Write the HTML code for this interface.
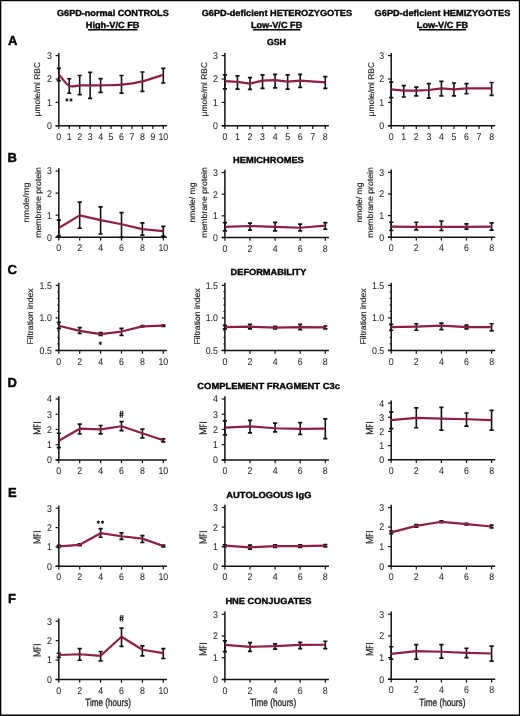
<!DOCTYPE html>
<html><head><meta charset="utf-8"><style>
html,body{margin:0;padding:0;background:#fff;width:520px;height:716px;overflow:hidden;}
svg text{font-family:"Liberation Sans",sans-serif;text-rendering:geometricPrecision;}
svg{will-change:transform;}
</style></head><body>
<svg width="520" height="716" viewBox="0 0 520 716" style="position:absolute;left:0;top:0">
<rect x="0" y="0" width="520" height="716" fill="#fff"/>
<text x="57.00" y="16.30" font-size="8.8" text-anchor="start" font-weight="bold" fill="#000" textLength="111.75" lengthAdjust="spacingAndGlyphs" stroke="#000" stroke-width="0.35">G6PD-normal CONTROLS</text>
<text x="85.75" y="27.60" font-size="8.8" text-anchor="start" font-weight="bold" fill="#000" textLength="53.75" lengthAdjust="spacingAndGlyphs" stroke="#000" stroke-width="0.35">High-V/C FB</text>
<path d="M87.95,29.70 H137.50" stroke="#000" stroke-width="1.4"/>
<text x="201.70" y="16.30" font-size="8.8" text-anchor="start" font-weight="bold" fill="#000" textLength="150.40" lengthAdjust="spacingAndGlyphs" stroke="#000" stroke-width="0.35">G6PD-deficient HETEROZYGOTES</text>
<text x="250.90" y="27.60" font-size="8.8" text-anchor="start" font-weight="bold" fill="#000" textLength="51.40" lengthAdjust="spacingAndGlyphs" stroke="#000" stroke-width="0.35">Low-V/C FB</text>
<path d="M253.10,29.70 H300.30" stroke="#000" stroke-width="1.4"/>
<text x="374.60" y="16.30" font-size="8.8" text-anchor="start" font-weight="bold" fill="#000" textLength="135.70" lengthAdjust="spacingAndGlyphs" stroke="#000" stroke-width="0.35">G6PD-deficient HEMIZYGOTES</text>
<text x="416.80" y="27.60" font-size="8.8" text-anchor="start" font-weight="bold" fill="#000" textLength="51.30" lengthAdjust="spacingAndGlyphs" stroke="#000" stroke-width="0.35">Low-V/C FB</text>
<path d="M419.00,29.70 H466.10" stroke="#000" stroke-width="1.4"/>
<text x="8.10" y="44.70" font-size="13" text-anchor="start" font-weight="bold" fill="#000" stroke="#000" stroke-width="0.4">A</text>
<text x="7.60" y="162.30" font-size="13" text-anchor="start" font-weight="bold" fill="#000" stroke="#000" stroke-width="0.4">B</text>
<text x="7.60" y="273.90" font-size="13" text-anchor="start" font-weight="bold" fill="#000" stroke="#000" stroke-width="0.4">C</text>
<text x="7.60" y="387.30" font-size="13" text-anchor="start" font-weight="bold" fill="#000" stroke="#000" stroke-width="0.4">D</text>
<text x="7.90" y="496.70" font-size="13" text-anchor="start" font-weight="bold" fill="#000" stroke="#000" stroke-width="0.4">E</text>
<text x="7.90" y="602.90" font-size="13" text-anchor="start" font-weight="bold" fill="#000" stroke="#000" stroke-width="0.4">F</text>
<text x="266.90" y="45.20" font-size="8.8" text-anchor="start" font-weight="bold" fill="#000" textLength="19.10" lengthAdjust="spacingAndGlyphs" stroke="#000" stroke-width="0.35">GSH</text>
<text x="233.10" y="162.60" font-size="8.8" text-anchor="start" font-weight="bold" fill="#000" textLength="70.70" lengthAdjust="spacingAndGlyphs" stroke="#000" stroke-width="0.35">HEMICHROMES</text>
<text x="230.60" y="275.10" font-size="8.8" text-anchor="start" font-weight="bold" fill="#000" textLength="75.70" lengthAdjust="spacingAndGlyphs" stroke="#000" stroke-width="0.35">DEFORMABILITY</text>
<text x="197.30" y="389.00" font-size="8.8" text-anchor="start" font-weight="bold" fill="#000" textLength="142.60" lengthAdjust="spacingAndGlyphs" stroke="#000" stroke-width="0.35">COMPLEMENT FRAGMENT C3c</text>
<text x="226.30" y="497.50" font-size="8.8" text-anchor="start" font-weight="bold" fill="#000" textLength="85.20" lengthAdjust="spacingAndGlyphs" stroke="#000" stroke-width="0.35">AUTOLOGOUS IgG</text>
<text x="225.40" y="604.00" font-size="8.8" text-anchor="start" font-weight="bold" fill="#000" textLength="86.10" lengthAdjust="spacingAndGlyphs" stroke="#000" stroke-width="0.35">HNE CONJUGATES</text>
<path d="M58.80,52.90 V125.80" stroke="#111" stroke-width="1.5" fill="none"/>
<path d="M55.60,125.80 H166.90" stroke="#111" stroke-width="1.5" fill="none"/>
<path d="M55.60,125.80 H58.80" stroke="#111" stroke-width="1.2"/>
<path d="M55.60,102.40 H58.80" stroke="#111" stroke-width="1.2"/>
<path d="M55.60,79.00 H58.80" stroke="#111" stroke-width="1.2"/>
<path d="M55.60,55.60 H58.80" stroke="#111" stroke-width="1.2"/>
<text transform="translate(51.80,129.20) scale(0.9,1)" x="0" y="0" font-size="9.8" text-anchor="end" fill="#262626" stroke="#262626" stroke-width="0.05">0</text>
<text transform="translate(51.80,105.80) scale(0.9,1)" x="0" y="0" font-size="9.8" text-anchor="end" fill="#262626" stroke="#262626" stroke-width="0.05">1</text>
<text transform="translate(51.80,82.40) scale(0.9,1)" x="0" y="0" font-size="9.8" text-anchor="end" fill="#262626" stroke="#262626" stroke-width="0.05">2</text>
<text transform="translate(51.80,59.00) scale(0.9,1)" x="0" y="0" font-size="9.8" text-anchor="end" fill="#262626" stroke="#262626" stroke-width="0.05">3</text>
<path d="M58.80,125.80 V129.10" stroke="#111" stroke-width="1.2"/>
<text transform="translate(58.80,139.90) scale(0.9,1)" x="0" y="0" font-size="9.8" text-anchor="middle" fill="#262626" stroke="#262626" stroke-width="0.05">0</text>
<path d="M69.25,125.80 V129.10" stroke="#111" stroke-width="1.2"/>
<text transform="translate(69.25,139.90) scale(0.9,1)" x="0" y="0" font-size="9.8" text-anchor="middle" fill="#262626" stroke="#262626" stroke-width="0.05">1</text>
<path d="M79.70,125.80 V129.10" stroke="#111" stroke-width="1.2"/>
<text transform="translate(79.70,139.90) scale(0.9,1)" x="0" y="0" font-size="9.8" text-anchor="middle" fill="#262626" stroke="#262626" stroke-width="0.05">2</text>
<path d="M90.15,125.80 V129.10" stroke="#111" stroke-width="1.2"/>
<text transform="translate(90.15,139.90) scale(0.9,1)" x="0" y="0" font-size="9.8" text-anchor="middle" fill="#262626" stroke="#262626" stroke-width="0.05">3</text>
<path d="M100.60,125.80 V129.10" stroke="#111" stroke-width="1.2"/>
<text transform="translate(100.60,139.90) scale(0.9,1)" x="0" y="0" font-size="9.8" text-anchor="middle" fill="#262626" stroke="#262626" stroke-width="0.05">4</text>
<path d="M111.05,125.80 V129.10" stroke="#111" stroke-width="1.2"/>
<text transform="translate(111.05,139.90) scale(0.9,1)" x="0" y="0" font-size="9.8" text-anchor="middle" fill="#262626" stroke="#262626" stroke-width="0.05">5</text>
<path d="M121.50,125.80 V129.10" stroke="#111" stroke-width="1.2"/>
<text transform="translate(121.50,139.90) scale(0.9,1)" x="0" y="0" font-size="9.8" text-anchor="middle" fill="#262626" stroke="#262626" stroke-width="0.05">6</text>
<path d="M131.95,125.80 V129.10" stroke="#111" stroke-width="1.2"/>
<text transform="translate(131.95,139.90) scale(0.9,1)" x="0" y="0" font-size="9.8" text-anchor="middle" fill="#262626" stroke="#262626" stroke-width="0.05">7</text>
<path d="M142.40,125.80 V129.10" stroke="#111" stroke-width="1.2"/>
<text transform="translate(142.40,139.90) scale(0.9,1)" x="0" y="0" font-size="9.8" text-anchor="middle" fill="#262626" stroke="#262626" stroke-width="0.05">8</text>
<path d="M152.85,125.80 V129.10" stroke="#111" stroke-width="1.2"/>
<text transform="translate(152.85,139.90) scale(0.9,1)" x="0" y="0" font-size="9.8" text-anchor="middle" fill="#262626" stroke="#262626" stroke-width="0.05">9</text>
<path d="M163.30,125.80 V129.10" stroke="#111" stroke-width="1.2"/>
<text transform="translate(163.30,139.90) scale(0.9,1)" x="0" y="0" font-size="9.8" text-anchor="middle" fill="#262626" stroke="#262626" stroke-width="0.05">10</text>
<path d="M58.80,68.47 V80.64" stroke="#111" stroke-width="1.6" fill="none"/>
<path d="M56.70,68.47 H60.90 M56.70,80.64 H60.90" stroke="#111" stroke-width="1.7" fill="none"/>
<path d="M69.25,78.77 V93.27" stroke="#111" stroke-width="1.6" fill="none"/>
<path d="M67.15,78.77 H71.35 M67.15,93.27 H71.35" stroke="#111" stroke-width="1.7" fill="none"/>
<path d="M79.70,75.49 V94.68" stroke="#111" stroke-width="1.6" fill="none"/>
<path d="M77.60,75.49 H81.80 M77.60,94.68 H81.80" stroke="#111" stroke-width="1.7" fill="none"/>
<path d="M90.15,72.45 V98.42" stroke="#111" stroke-width="1.6" fill="none"/>
<path d="M88.05,72.45 H92.25 M88.05,98.42 H92.25" stroke="#111" stroke-width="1.7" fill="none"/>
<path d="M100.60,78.53 V92.34" stroke="#111" stroke-width="1.6" fill="none"/>
<path d="M98.50,78.53 H102.70 M98.50,92.34 H102.70" stroke="#111" stroke-width="1.7" fill="none"/>
<path d="M121.50,75.49 V93.04" stroke="#111" stroke-width="1.6" fill="none"/>
<path d="M119.40,75.49 H123.60 M119.40,93.04 H123.60" stroke="#111" stroke-width="1.7" fill="none"/>
<path d="M142.40,71.98 V91.40" stroke="#111" stroke-width="1.6" fill="none"/>
<path d="M140.30,71.98 H144.50 M140.30,91.40 H144.50" stroke="#111" stroke-width="1.7" fill="none"/>
<path d="M163.30,68.47 V82.98" stroke="#111" stroke-width="1.6" fill="none"/>
<path d="M161.20,68.47 H165.40 M161.20,82.98 H165.40" stroke="#111" stroke-width="1.7" fill="none"/>
<path d="M58.80,74.32 C60.54,76.23 65.77,83.95 69.25,85.79 C72.73,87.62 76.22,85.40 79.70,85.32 C83.18,85.24 86.67,85.32 90.15,85.32 C93.63,85.32 95.38,85.44 100.60,85.32 C105.82,85.20 114.53,85.28 121.50,84.62 C128.47,83.95 135.43,82.98 142.40,81.34 C149.37,79.70 159.82,75.88 163.30,74.79" stroke="#8c1e47" stroke-width="2.2" fill="none" stroke-linejoin="round"/>
<path d="M224.90,52.90 V125.80" stroke="#111" stroke-width="1.5" fill="none"/>
<path d="M221.70,125.80 H328.90" stroke="#111" stroke-width="1.5" fill="none"/>
<path d="M221.70,125.80 H224.90" stroke="#111" stroke-width="1.2"/>
<path d="M221.70,102.40 H224.90" stroke="#111" stroke-width="1.2"/>
<path d="M221.70,79.00 H224.90" stroke="#111" stroke-width="1.2"/>
<path d="M221.70,55.60 H224.90" stroke="#111" stroke-width="1.2"/>
<text transform="translate(217.90,129.20) scale(0.9,1)" x="0" y="0" font-size="9.8" text-anchor="end" fill="#262626" stroke="#262626" stroke-width="0.05">0</text>
<text transform="translate(217.90,105.80) scale(0.9,1)" x="0" y="0" font-size="9.8" text-anchor="end" fill="#262626" stroke="#262626" stroke-width="0.05">1</text>
<text transform="translate(217.90,82.40) scale(0.9,1)" x="0" y="0" font-size="9.8" text-anchor="end" fill="#262626" stroke="#262626" stroke-width="0.05">2</text>
<text transform="translate(217.90,59.00) scale(0.9,1)" x="0" y="0" font-size="9.8" text-anchor="end" fill="#262626" stroke="#262626" stroke-width="0.05">3</text>
<path d="M224.90,125.80 V129.10" stroke="#111" stroke-width="1.2"/>
<text transform="translate(224.90,139.90) scale(0.9,1)" x="0" y="0" font-size="9.8" text-anchor="middle" fill="#262626" stroke="#262626" stroke-width="0.05">0</text>
<path d="M237.45,125.80 V129.10" stroke="#111" stroke-width="1.2"/>
<text transform="translate(237.45,139.90) scale(0.9,1)" x="0" y="0" font-size="9.8" text-anchor="middle" fill="#262626" stroke="#262626" stroke-width="0.05">1</text>
<path d="M250.00,125.80 V129.10" stroke="#111" stroke-width="1.2"/>
<text transform="translate(250.00,139.90) scale(0.9,1)" x="0" y="0" font-size="9.8" text-anchor="middle" fill="#262626" stroke="#262626" stroke-width="0.05">2</text>
<path d="M262.55,125.80 V129.10" stroke="#111" stroke-width="1.2"/>
<text transform="translate(262.55,139.90) scale(0.9,1)" x="0" y="0" font-size="9.8" text-anchor="middle" fill="#262626" stroke="#262626" stroke-width="0.05">3</text>
<path d="M275.10,125.80 V129.10" stroke="#111" stroke-width="1.2"/>
<text transform="translate(275.10,139.90) scale(0.9,1)" x="0" y="0" font-size="9.8" text-anchor="middle" fill="#262626" stroke="#262626" stroke-width="0.05">4</text>
<path d="M287.65,125.80 V129.10" stroke="#111" stroke-width="1.2"/>
<text transform="translate(287.65,139.90) scale(0.9,1)" x="0" y="0" font-size="9.8" text-anchor="middle" fill="#262626" stroke="#262626" stroke-width="0.05">5</text>
<path d="M300.20,125.80 V129.10" stroke="#111" stroke-width="1.2"/>
<text transform="translate(300.20,139.90) scale(0.9,1)" x="0" y="0" font-size="9.8" text-anchor="middle" fill="#262626" stroke="#262626" stroke-width="0.05">6</text>
<path d="M312.75,125.80 V129.10" stroke="#111" stroke-width="1.2"/>
<text transform="translate(312.75,139.90) scale(0.9,1)" x="0" y="0" font-size="9.8" text-anchor="middle" fill="#262626" stroke="#262626" stroke-width="0.05">7</text>
<path d="M325.30,125.80 V129.10" stroke="#111" stroke-width="1.2"/>
<text transform="translate(325.30,139.90) scale(0.9,1)" x="0" y="0" font-size="9.8" text-anchor="middle" fill="#262626" stroke="#262626" stroke-width="0.05">8</text>
<path d="M224.90,74.79 V88.83" stroke="#111" stroke-width="1.6" fill="none"/>
<path d="M222.80,74.79 H227.00 M222.80,88.83 H227.00" stroke="#111" stroke-width="1.7" fill="none"/>
<path d="M237.45,75.96 V89.06" stroke="#111" stroke-width="1.6" fill="none"/>
<path d="M235.35,75.96 H239.55 M235.35,89.06 H239.55" stroke="#111" stroke-width="1.7" fill="none"/>
<path d="M250.00,77.60 V89.30" stroke="#111" stroke-width="1.6" fill="none"/>
<path d="M247.90,77.60 H252.10 M247.90,89.30 H252.10" stroke="#111" stroke-width="1.7" fill="none"/>
<path d="M262.55,74.79 V88.36" stroke="#111" stroke-width="1.6" fill="none"/>
<path d="M260.45,74.79 H264.65 M260.45,88.36 H264.65" stroke="#111" stroke-width="1.7" fill="none"/>
<path d="M275.10,74.32 V87.89" stroke="#111" stroke-width="1.6" fill="none"/>
<path d="M273.00,74.32 H277.20 M273.00,87.89 H277.20" stroke="#111" stroke-width="1.7" fill="none"/>
<path d="M287.65,74.79 V89.06" stroke="#111" stroke-width="1.6" fill="none"/>
<path d="M285.55,74.79 H289.75 M285.55,89.06 H289.75" stroke="#111" stroke-width="1.7" fill="none"/>
<path d="M300.20,74.32 V87.42" stroke="#111" stroke-width="1.6" fill="none"/>
<path d="M298.10,74.32 H302.30 M298.10,87.42 H302.30" stroke="#111" stroke-width="1.7" fill="none"/>
<path d="M325.30,76.66 V88.36" stroke="#111" stroke-width="1.6" fill="none"/>
<path d="M323.20,76.66 H327.40 M323.20,88.36 H327.40" stroke="#111" stroke-width="1.7" fill="none"/>
<path d="M224.90,81.11 L237.45,81.81 L250.00,83.68 L262.55,80.64 L275.10,80.17 L287.65,81.57 L300.20,80.64 L325.30,82.28" stroke="#8c1e47" stroke-width="2.2" fill="none" stroke-linejoin="round"/>
<path d="M391.20,52.90 V125.80" stroke="#111" stroke-width="1.5" fill="none"/>
<path d="M388.00,125.80 H495.20" stroke="#111" stroke-width="1.5" fill="none"/>
<path d="M388.00,125.80 H391.20" stroke="#111" stroke-width="1.2"/>
<path d="M388.00,102.40 H391.20" stroke="#111" stroke-width="1.2"/>
<path d="M388.00,79.00 H391.20" stroke="#111" stroke-width="1.2"/>
<path d="M388.00,55.60 H391.20" stroke="#111" stroke-width="1.2"/>
<text transform="translate(384.20,129.20) scale(0.9,1)" x="0" y="0" font-size="9.8" text-anchor="end" fill="#262626" stroke="#262626" stroke-width="0.05">0</text>
<text transform="translate(384.20,105.80) scale(0.9,1)" x="0" y="0" font-size="9.8" text-anchor="end" fill="#262626" stroke="#262626" stroke-width="0.05">1</text>
<text transform="translate(384.20,82.40) scale(0.9,1)" x="0" y="0" font-size="9.8" text-anchor="end" fill="#262626" stroke="#262626" stroke-width="0.05">2</text>
<text transform="translate(384.20,59.00) scale(0.9,1)" x="0" y="0" font-size="9.8" text-anchor="end" fill="#262626" stroke="#262626" stroke-width="0.05">3</text>
<path d="M391.20,125.80 V129.10" stroke="#111" stroke-width="1.2"/>
<text transform="translate(391.20,139.90) scale(0.9,1)" x="0" y="0" font-size="9.8" text-anchor="middle" fill="#262626" stroke="#262626" stroke-width="0.05">0</text>
<path d="M403.75,125.80 V129.10" stroke="#111" stroke-width="1.2"/>
<text transform="translate(403.75,139.90) scale(0.9,1)" x="0" y="0" font-size="9.8" text-anchor="middle" fill="#262626" stroke="#262626" stroke-width="0.05">1</text>
<path d="M416.30,125.80 V129.10" stroke="#111" stroke-width="1.2"/>
<text transform="translate(416.30,139.90) scale(0.9,1)" x="0" y="0" font-size="9.8" text-anchor="middle" fill="#262626" stroke="#262626" stroke-width="0.05">2</text>
<path d="M428.85,125.80 V129.10" stroke="#111" stroke-width="1.2"/>
<text transform="translate(428.85,139.90) scale(0.9,1)" x="0" y="0" font-size="9.8" text-anchor="middle" fill="#262626" stroke="#262626" stroke-width="0.05">3</text>
<path d="M441.40,125.80 V129.10" stroke="#111" stroke-width="1.2"/>
<text transform="translate(441.40,139.90) scale(0.9,1)" x="0" y="0" font-size="9.8" text-anchor="middle" fill="#262626" stroke="#262626" stroke-width="0.05">4</text>
<path d="M453.95,125.80 V129.10" stroke="#111" stroke-width="1.2"/>
<text transform="translate(453.95,139.90) scale(0.9,1)" x="0" y="0" font-size="9.8" text-anchor="middle" fill="#262626" stroke="#262626" stroke-width="0.05">5</text>
<path d="M466.50,125.80 V129.10" stroke="#111" stroke-width="1.2"/>
<text transform="translate(466.50,139.90) scale(0.9,1)" x="0" y="0" font-size="9.8" text-anchor="middle" fill="#262626" stroke="#262626" stroke-width="0.05">6</text>
<path d="M479.05,125.80 V129.10" stroke="#111" stroke-width="1.2"/>
<text transform="translate(479.05,139.90) scale(0.9,1)" x="0" y="0" font-size="9.8" text-anchor="middle" fill="#262626" stroke="#262626" stroke-width="0.05">7</text>
<path d="M491.60,125.80 V129.10" stroke="#111" stroke-width="1.2"/>
<text transform="translate(491.60,139.90) scale(0.9,1)" x="0" y="0" font-size="9.8" text-anchor="middle" fill="#262626" stroke="#262626" stroke-width="0.05">8</text>
<path d="M391.20,82.04 V97.72" stroke="#111" stroke-width="1.6" fill="none"/>
<path d="M389.10,82.04 H393.30 M389.10,97.72 H393.30" stroke="#111" stroke-width="1.7" fill="none"/>
<path d="M403.75,85.55 V97.02" stroke="#111" stroke-width="1.6" fill="none"/>
<path d="M401.65,85.55 H405.85 M401.65,97.02 H405.85" stroke="#111" stroke-width="1.7" fill="none"/>
<path d="M416.30,87.19 V95.85" stroke="#111" stroke-width="1.6" fill="none"/>
<path d="M414.20,87.19 H418.40 M414.20,95.85 H418.40" stroke="#111" stroke-width="1.7" fill="none"/>
<path d="M428.85,83.68 V98.19" stroke="#111" stroke-width="1.6" fill="none"/>
<path d="M426.75,83.68 H430.95 M426.75,98.19 H430.95" stroke="#111" stroke-width="1.7" fill="none"/>
<path d="M441.40,81.34 V95.85" stroke="#111" stroke-width="1.6" fill="none"/>
<path d="M439.30,81.34 H443.50 M439.30,95.85 H443.50" stroke="#111" stroke-width="1.7" fill="none"/>
<path d="M453.95,82.98 V95.85" stroke="#111" stroke-width="1.6" fill="none"/>
<path d="M451.85,82.98 H456.05 M451.85,95.85 H456.05" stroke="#111" stroke-width="1.7" fill="none"/>
<path d="M466.50,83.68 V93.74" stroke="#111" stroke-width="1.6" fill="none"/>
<path d="M464.40,83.68 H468.60 M464.40,93.74 H468.60" stroke="#111" stroke-width="1.7" fill="none"/>
<path d="M491.60,82.51 V95.38" stroke="#111" stroke-width="1.6" fill="none"/>
<path d="M489.50,82.51 H493.70 M489.50,95.38 H493.70" stroke="#111" stroke-width="1.7" fill="none"/>
<path d="M391.20,89.30 L403.75,90.70 L416.30,90.70 L428.85,90.00 L441.40,88.36 L453.95,89.30 L466.50,88.36 L491.60,88.36" stroke="#8c1e47" stroke-width="2.2" fill="none" stroke-linejoin="round"/>
<path d="M58.80,168.30 V237.30" stroke="#111" stroke-width="1.5" fill="none"/>
<path d="M55.60,237.30 H166.90" stroke="#111" stroke-width="1.5" fill="none"/>
<path d="M55.60,237.30 H58.80" stroke="#111" stroke-width="1.2"/>
<path d="M55.60,215.20 H58.80" stroke="#111" stroke-width="1.2"/>
<path d="M55.60,193.10 H58.80" stroke="#111" stroke-width="1.2"/>
<path d="M55.60,171.00 H58.80" stroke="#111" stroke-width="1.2"/>
<text transform="translate(51.80,240.70) scale(0.9,1)" x="0" y="0" font-size="9.8" text-anchor="end" fill="#262626" stroke="#262626" stroke-width="0.05">0</text>
<text transform="translate(51.80,218.60) scale(0.9,1)" x="0" y="0" font-size="9.8" text-anchor="end" fill="#262626" stroke="#262626" stroke-width="0.05">1</text>
<text transform="translate(51.80,196.50) scale(0.9,1)" x="0" y="0" font-size="9.8" text-anchor="end" fill="#262626" stroke="#262626" stroke-width="0.05">2</text>
<text transform="translate(51.80,174.40) scale(0.9,1)" x="0" y="0" font-size="9.8" text-anchor="end" fill="#262626" stroke="#262626" stroke-width="0.05">3</text>
<path d="M58.80,237.30 V240.60" stroke="#111" stroke-width="1.2"/>
<text transform="translate(58.80,251.40) scale(0.9,1)" x="0" y="0" font-size="9.8" text-anchor="middle" fill="#262626" stroke="#262626" stroke-width="0.05">0</text>
<path d="M79.70,237.30 V240.60" stroke="#111" stroke-width="1.2"/>
<text transform="translate(79.70,251.40) scale(0.9,1)" x="0" y="0" font-size="9.8" text-anchor="middle" fill="#262626" stroke="#262626" stroke-width="0.05">2</text>
<path d="M100.60,237.30 V240.60" stroke="#111" stroke-width="1.2"/>
<text transform="translate(100.60,251.40) scale(0.9,1)" x="0" y="0" font-size="9.8" text-anchor="middle" fill="#262626" stroke="#262626" stroke-width="0.05">4</text>
<path d="M121.50,237.30 V240.60" stroke="#111" stroke-width="1.2"/>
<text transform="translate(121.50,251.40) scale(0.9,1)" x="0" y="0" font-size="9.8" text-anchor="middle" fill="#262626" stroke="#262626" stroke-width="0.05">6</text>
<path d="M142.40,237.30 V240.60" stroke="#111" stroke-width="1.2"/>
<text transform="translate(142.40,251.40) scale(0.9,1)" x="0" y="0" font-size="9.8" text-anchor="middle" fill="#262626" stroke="#262626" stroke-width="0.05">8</text>
<path d="M163.30,237.30 V240.60" stroke="#111" stroke-width="1.2"/>
<text transform="translate(163.30,251.40) scale(0.9,1)" x="0" y="0" font-size="9.8" text-anchor="middle" fill="#262626" stroke="#262626" stroke-width="0.05">10</text>
<path d="M58.80,220.06 V236.20" stroke="#111" stroke-width="1.6" fill="none"/>
<path d="M56.70,220.06 H60.90 M56.70,236.20 H60.90" stroke="#111" stroke-width="1.7" fill="none"/>
<path d="M79.70,202.16 V228.24" stroke="#111" stroke-width="1.6" fill="none"/>
<path d="M77.60,202.16 H81.80 M77.60,228.24 H81.80" stroke="#111" stroke-width="1.7" fill="none"/>
<path d="M100.60,206.80 V233.99" stroke="#111" stroke-width="1.6" fill="none"/>
<path d="M98.50,206.80 H102.70 M98.50,233.99 H102.70" stroke="#111" stroke-width="1.7" fill="none"/>
<path d="M121.50,212.55 V237.30" stroke="#111" stroke-width="1.6" fill="none"/>
<path d="M119.40,212.55 H123.60 M119.40,237.30 H123.60" stroke="#111" stroke-width="1.7" fill="none"/>
<path d="M142.40,222.94 V235.09" stroke="#111" stroke-width="1.6" fill="none"/>
<path d="M140.30,222.94 H144.50 M140.30,235.09 H144.50" stroke="#111" stroke-width="1.7" fill="none"/>
<path d="M163.30,226.47 V236.20" stroke="#111" stroke-width="1.6" fill="none"/>
<path d="M161.20,226.47 H165.40 M161.20,236.20 H165.40" stroke="#111" stroke-width="1.7" fill="none"/>
<path d="M58.80,228.02 L79.70,215.42 L100.60,220.06 L121.50,224.26 L142.40,229.12 L163.30,231.11" stroke="#8c1e47" stroke-width="2.2" fill="none" stroke-linejoin="round"/>
<path d="M224.90,169.80 V237.50" stroke="#111" stroke-width="1.5" fill="none"/>
<path d="M221.70,237.50 H328.90" stroke="#111" stroke-width="1.5" fill="none"/>
<path d="M221.70,237.50 H224.90" stroke="#111" stroke-width="1.2"/>
<path d="M221.70,215.83 H224.90" stroke="#111" stroke-width="1.2"/>
<path d="M221.70,194.17 H224.90" stroke="#111" stroke-width="1.2"/>
<path d="M221.70,172.50 H224.90" stroke="#111" stroke-width="1.2"/>
<text transform="translate(217.90,240.90) scale(0.9,1)" x="0" y="0" font-size="9.8" text-anchor="end" fill="#262626" stroke="#262626" stroke-width="0.05">0</text>
<text transform="translate(217.90,219.23) scale(0.9,1)" x="0" y="0" font-size="9.8" text-anchor="end" fill="#262626" stroke="#262626" stroke-width="0.05">1</text>
<text transform="translate(217.90,197.57) scale(0.9,1)" x="0" y="0" font-size="9.8" text-anchor="end" fill="#262626" stroke="#262626" stroke-width="0.05">2</text>
<text transform="translate(217.90,175.90) scale(0.9,1)" x="0" y="0" font-size="9.8" text-anchor="end" fill="#262626" stroke="#262626" stroke-width="0.05">3</text>
<path d="M224.90,237.50 V240.80" stroke="#111" stroke-width="1.2"/>
<text transform="translate(224.90,251.60) scale(0.9,1)" x="0" y="0" font-size="9.8" text-anchor="middle" fill="#262626" stroke="#262626" stroke-width="0.05">0</text>
<path d="M250.00,237.50 V240.80" stroke="#111" stroke-width="1.2"/>
<text transform="translate(250.00,251.60) scale(0.9,1)" x="0" y="0" font-size="9.8" text-anchor="middle" fill="#262626" stroke="#262626" stroke-width="0.05">2</text>
<path d="M275.10,237.50 V240.80" stroke="#111" stroke-width="1.2"/>
<text transform="translate(275.10,251.60) scale(0.9,1)" x="0" y="0" font-size="9.8" text-anchor="middle" fill="#262626" stroke="#262626" stroke-width="0.05">4</text>
<path d="M300.20,237.50 V240.80" stroke="#111" stroke-width="1.2"/>
<text transform="translate(300.20,251.60) scale(0.9,1)" x="0" y="0" font-size="9.8" text-anchor="middle" fill="#262626" stroke="#262626" stroke-width="0.05">6</text>
<path d="M325.30,237.50 V240.80" stroke="#111" stroke-width="1.2"/>
<text transform="translate(325.30,251.60) scale(0.9,1)" x="0" y="0" font-size="9.8" text-anchor="middle" fill="#262626" stroke="#262626" stroke-width="0.05">8</text>
<path d="M224.90,222.55 V230.78" stroke="#111" stroke-width="1.6" fill="none"/>
<path d="M222.80,222.55 H227.00 M222.80,230.78 H227.00" stroke="#111" stroke-width="1.7" fill="none"/>
<path d="M250.00,223.20 V230.13" stroke="#111" stroke-width="1.6" fill="none"/>
<path d="M247.90,223.20 H252.10 M247.90,230.13 H252.10" stroke="#111" stroke-width="1.7" fill="none"/>
<path d="M275.10,222.33 V230.78" stroke="#111" stroke-width="1.6" fill="none"/>
<path d="M273.00,222.33 H277.20 M273.00,230.78 H277.20" stroke="#111" stroke-width="1.7" fill="none"/>
<path d="M300.20,224.07 V230.78" stroke="#111" stroke-width="1.6" fill="none"/>
<path d="M298.10,224.07 H302.30 M298.10,230.78 H302.30" stroke="#111" stroke-width="1.7" fill="none"/>
<path d="M325.30,222.55 V229.27" stroke="#111" stroke-width="1.6" fill="none"/>
<path d="M323.20,222.55 H327.40 M323.20,229.27 H327.40" stroke="#111" stroke-width="1.7" fill="none"/>
<path d="M224.90,226.88 L250.00,226.02 L275.10,226.88 L300.20,227.75 L325.30,225.58" stroke="#8c1e47" stroke-width="2.2" fill="none" stroke-linejoin="round"/>
<path d="M391.20,169.60 V237.20" stroke="#111" stroke-width="1.5" fill="none"/>
<path d="M388.00,237.20 H495.20" stroke="#111" stroke-width="1.5" fill="none"/>
<path d="M388.00,237.20 H391.20" stroke="#111" stroke-width="1.2"/>
<path d="M388.00,215.57 H391.20" stroke="#111" stroke-width="1.2"/>
<path d="M388.00,193.93 H391.20" stroke="#111" stroke-width="1.2"/>
<path d="M388.00,172.30 H391.20" stroke="#111" stroke-width="1.2"/>
<text transform="translate(384.20,240.60) scale(0.9,1)" x="0" y="0" font-size="9.8" text-anchor="end" fill="#262626" stroke="#262626" stroke-width="0.05">0</text>
<text transform="translate(384.20,218.97) scale(0.9,1)" x="0" y="0" font-size="9.8" text-anchor="end" fill="#262626" stroke="#262626" stroke-width="0.05">1</text>
<text transform="translate(384.20,197.33) scale(0.9,1)" x="0" y="0" font-size="9.8" text-anchor="end" fill="#262626" stroke="#262626" stroke-width="0.05">2</text>
<text transform="translate(384.20,175.70) scale(0.9,1)" x="0" y="0" font-size="9.8" text-anchor="end" fill="#262626" stroke="#262626" stroke-width="0.05">3</text>
<path d="M391.20,237.20 V240.50" stroke="#111" stroke-width="1.2"/>
<text transform="translate(391.20,251.30) scale(0.9,1)" x="0" y="0" font-size="9.8" text-anchor="middle" fill="#262626" stroke="#262626" stroke-width="0.05">0</text>
<path d="M416.30,237.20 V240.50" stroke="#111" stroke-width="1.2"/>
<text transform="translate(416.30,251.30) scale(0.9,1)" x="0" y="0" font-size="9.8" text-anchor="middle" fill="#262626" stroke="#262626" stroke-width="0.05">2</text>
<path d="M441.40,237.20 V240.50" stroke="#111" stroke-width="1.2"/>
<text transform="translate(441.40,251.30) scale(0.9,1)" x="0" y="0" font-size="9.8" text-anchor="middle" fill="#262626" stroke="#262626" stroke-width="0.05">4</text>
<path d="M466.50,237.20 V240.50" stroke="#111" stroke-width="1.2"/>
<text transform="translate(466.50,251.30) scale(0.9,1)" x="0" y="0" font-size="9.8" text-anchor="middle" fill="#262626" stroke="#262626" stroke-width="0.05">6</text>
<path d="M491.60,237.20 V240.50" stroke="#111" stroke-width="1.2"/>
<text transform="translate(491.60,251.30) scale(0.9,1)" x="0" y="0" font-size="9.8" text-anchor="middle" fill="#262626" stroke="#262626" stroke-width="0.05">8</text>
<path d="M391.20,222.27 V230.49" stroke="#111" stroke-width="1.6" fill="none"/>
<path d="M389.10,222.27 H393.30 M389.10,230.49 H393.30" stroke="#111" stroke-width="1.7" fill="none"/>
<path d="M416.30,222.27 V229.84" stroke="#111" stroke-width="1.6" fill="none"/>
<path d="M414.20,222.27 H418.40 M414.20,229.84 H418.40" stroke="#111" stroke-width="1.7" fill="none"/>
<path d="M441.40,221.19 V230.49" stroke="#111" stroke-width="1.6" fill="none"/>
<path d="M439.30,221.19 H443.50 M439.30,230.49 H443.50" stroke="#111" stroke-width="1.7" fill="none"/>
<path d="M466.50,223.79 V229.20" stroke="#111" stroke-width="1.6" fill="none"/>
<path d="M464.40,223.79 H468.60 M464.40,229.20 H468.60" stroke="#111" stroke-width="1.7" fill="none"/>
<path d="M491.60,222.92 V230.06" stroke="#111" stroke-width="1.6" fill="none"/>
<path d="M489.50,222.92 H493.70 M489.50,230.06 H493.70" stroke="#111" stroke-width="1.7" fill="none"/>
<path d="M391.20,226.60 L416.30,226.82 L441.40,226.82 L466.50,226.82 L491.60,226.60" stroke="#8c1e47" stroke-width="2.2" fill="none" stroke-linejoin="round"/>
<path d="M58.80,282.70 V350.40" stroke="#111" stroke-width="1.5" fill="none"/>
<path d="M55.60,350.40 H166.90" stroke="#111" stroke-width="1.5" fill="none"/>
<path d="M55.60,350.40 H58.80" stroke="#111" stroke-width="1.2"/>
<path d="M55.60,317.90 H58.80" stroke="#111" stroke-width="1.2"/>
<path d="M55.60,285.40 H58.80" stroke="#111" stroke-width="1.2"/>
<path d="M57.20,343.90 H58.80" stroke="#111" stroke-width="1"/>
<path d="M57.20,337.40 H58.80" stroke="#111" stroke-width="1"/>
<path d="M57.20,330.90 H58.80" stroke="#111" stroke-width="1"/>
<path d="M57.20,324.40 H58.80" stroke="#111" stroke-width="1"/>
<path d="M57.20,311.40 H58.80" stroke="#111" stroke-width="1"/>
<path d="M57.20,304.90 H58.80" stroke="#111" stroke-width="1"/>
<path d="M57.20,298.40 H58.80" stroke="#111" stroke-width="1"/>
<path d="M57.20,291.90 H58.80" stroke="#111" stroke-width="1"/>
<text transform="translate(51.80,353.80) scale(0.9,1)" x="0" y="0" font-size="9.8" text-anchor="end" fill="#262626" stroke="#262626" stroke-width="0.05">0.5</text>
<text transform="translate(51.80,321.30) scale(0.9,1)" x="0" y="0" font-size="9.8" text-anchor="end" fill="#262626" stroke="#262626" stroke-width="0.05">1.0</text>
<text transform="translate(51.80,288.80) scale(0.9,1)" x="0" y="0" font-size="9.8" text-anchor="end" fill="#262626" stroke="#262626" stroke-width="0.05">1.5</text>
<path d="M58.80,350.40 V353.70" stroke="#111" stroke-width="1.2"/>
<text transform="translate(58.80,364.50) scale(0.9,1)" x="0" y="0" font-size="9.8" text-anchor="middle" fill="#262626" stroke="#262626" stroke-width="0.05">0</text>
<path d="M79.70,350.40 V353.70" stroke="#111" stroke-width="1.2"/>
<text transform="translate(79.70,364.50) scale(0.9,1)" x="0" y="0" font-size="9.8" text-anchor="middle" fill="#262626" stroke="#262626" stroke-width="0.05">2</text>
<path d="M100.60,350.40 V353.70" stroke="#111" stroke-width="1.2"/>
<text transform="translate(100.60,364.50) scale(0.9,1)" x="0" y="0" font-size="9.8" text-anchor="middle" fill="#262626" stroke="#262626" stroke-width="0.05">4</text>
<path d="M121.50,350.40 V353.70" stroke="#111" stroke-width="1.2"/>
<text transform="translate(121.50,364.50) scale(0.9,1)" x="0" y="0" font-size="9.8" text-anchor="middle" fill="#262626" stroke="#262626" stroke-width="0.05">6</text>
<path d="M142.40,350.40 V353.70" stroke="#111" stroke-width="1.2"/>
<text transform="translate(142.40,364.50) scale(0.9,1)" x="0" y="0" font-size="9.8" text-anchor="middle" fill="#262626" stroke="#262626" stroke-width="0.05">8</text>
<path d="M163.30,350.40 V353.70" stroke="#111" stroke-width="1.2"/>
<text transform="translate(163.30,364.50) scale(0.9,1)" x="0" y="0" font-size="9.8" text-anchor="middle" fill="#262626" stroke="#262626" stroke-width="0.05">10</text>
<path d="M58.80,322.45 V328.30" stroke="#111" stroke-width="1.6" fill="none"/>
<path d="M56.70,322.45 H60.90 M56.70,328.30 H60.90" stroke="#111" stroke-width="1.7" fill="none"/>
<path d="M79.70,327.65 V333.50" stroke="#111" stroke-width="1.6" fill="none"/>
<path d="M77.60,327.65 H81.80 M77.60,333.50 H81.80" stroke="#111" stroke-width="1.7" fill="none"/>
<path d="M100.60,332.52 V335.45" stroke="#111" stroke-width="1.6" fill="none"/>
<path d="M98.50,332.52 H102.70 M98.50,335.45 H102.70" stroke="#111" stroke-width="1.7" fill="none"/>
<path d="M121.50,328.30 V335.45" stroke="#111" stroke-width="1.6" fill="none"/>
<path d="M119.40,328.30 H123.60 M119.40,335.45 H123.60" stroke="#111" stroke-width="1.7" fill="none"/>
<path d="M142.40,325.70 V327.00" stroke="#111" stroke-width="1.6" fill="none"/>
<path d="M140.30,325.70 H144.50 M140.30,327.00 H144.50" stroke="#111" stroke-width="1.7" fill="none"/>
<path d="M163.30,325.05 V326.35" stroke="#111" stroke-width="1.6" fill="none"/>
<path d="M161.20,325.05 H165.40 M161.20,326.35 H165.40" stroke="#111" stroke-width="1.7" fill="none"/>
<path d="M58.80,325.70 L79.70,330.90 L100.60,334.15 L121.50,331.55 L142.40,326.35 L163.30,325.70" stroke="#8c1e47" stroke-width="2.2" fill="none" stroke-linejoin="round"/>
<path d="M224.90,282.70 V350.40" stroke="#111" stroke-width="1.5" fill="none"/>
<path d="M221.70,350.40 H328.90" stroke="#111" stroke-width="1.5" fill="none"/>
<path d="M221.70,350.40 H224.90" stroke="#111" stroke-width="1.2"/>
<path d="M221.70,317.90 H224.90" stroke="#111" stroke-width="1.2"/>
<path d="M221.70,285.40 H224.90" stroke="#111" stroke-width="1.2"/>
<path d="M223.30,343.90 H224.90" stroke="#111" stroke-width="1"/>
<path d="M223.30,337.40 H224.90" stroke="#111" stroke-width="1"/>
<path d="M223.30,330.90 H224.90" stroke="#111" stroke-width="1"/>
<path d="M223.30,324.40 H224.90" stroke="#111" stroke-width="1"/>
<path d="M223.30,311.40 H224.90" stroke="#111" stroke-width="1"/>
<path d="M223.30,304.90 H224.90" stroke="#111" stroke-width="1"/>
<path d="M223.30,298.40 H224.90" stroke="#111" stroke-width="1"/>
<path d="M223.30,291.90 H224.90" stroke="#111" stroke-width="1"/>
<text transform="translate(217.90,353.80) scale(0.9,1)" x="0" y="0" font-size="9.8" text-anchor="end" fill="#262626" stroke="#262626" stroke-width="0.05">0.5</text>
<text transform="translate(217.90,321.30) scale(0.9,1)" x="0" y="0" font-size="9.8" text-anchor="end" fill="#262626" stroke="#262626" stroke-width="0.05">1.0</text>
<text transform="translate(217.90,288.80) scale(0.9,1)" x="0" y="0" font-size="9.8" text-anchor="end" fill="#262626" stroke="#262626" stroke-width="0.05">1.5</text>
<path d="M224.90,350.40 V353.70" stroke="#111" stroke-width="1.2"/>
<text transform="translate(224.90,364.50) scale(0.9,1)" x="0" y="0" font-size="9.8" text-anchor="middle" fill="#262626" stroke="#262626" stroke-width="0.05">0</text>
<path d="M250.00,350.40 V353.70" stroke="#111" stroke-width="1.2"/>
<text transform="translate(250.00,364.50) scale(0.9,1)" x="0" y="0" font-size="9.8" text-anchor="middle" fill="#262626" stroke="#262626" stroke-width="0.05">2</text>
<path d="M275.10,350.40 V353.70" stroke="#111" stroke-width="1.2"/>
<text transform="translate(275.10,364.50) scale(0.9,1)" x="0" y="0" font-size="9.8" text-anchor="middle" fill="#262626" stroke="#262626" stroke-width="0.05">4</text>
<path d="M300.20,350.40 V353.70" stroke="#111" stroke-width="1.2"/>
<text transform="translate(300.20,364.50) scale(0.9,1)" x="0" y="0" font-size="9.8" text-anchor="middle" fill="#262626" stroke="#262626" stroke-width="0.05">6</text>
<path d="M325.30,350.40 V353.70" stroke="#111" stroke-width="1.2"/>
<text transform="translate(325.30,364.50) scale(0.9,1)" x="0" y="0" font-size="9.8" text-anchor="middle" fill="#262626" stroke="#262626" stroke-width="0.05">8</text>
<path d="M224.90,325.70 V328.95" stroke="#111" stroke-width="1.6" fill="none"/>
<path d="M222.80,325.70 H227.00 M222.80,328.95 H227.00" stroke="#111" stroke-width="1.7" fill="none"/>
<path d="M250.00,324.40 V328.95" stroke="#111" stroke-width="1.6" fill="none"/>
<path d="M247.90,324.40 H252.10 M247.90,328.95 H252.10" stroke="#111" stroke-width="1.7" fill="none"/>
<path d="M275.10,326.35 V328.95" stroke="#111" stroke-width="1.6" fill="none"/>
<path d="M273.00,326.35 H277.20 M273.00,328.95 H277.20" stroke="#111" stroke-width="1.7" fill="none"/>
<path d="M300.20,324.40 V329.60" stroke="#111" stroke-width="1.6" fill="none"/>
<path d="M298.10,324.40 H302.30 M298.10,329.60 H302.30" stroke="#111" stroke-width="1.7" fill="none"/>
<path d="M325.30,326.02 V328.95" stroke="#111" stroke-width="1.6" fill="none"/>
<path d="M323.20,326.02 H327.40 M323.20,328.95 H327.40" stroke="#111" stroke-width="1.7" fill="none"/>
<path d="M224.90,327.19 L250.00,326.61 L275.10,327.65 L300.20,327.19 L325.30,327.45" stroke="#8c1e47" stroke-width="2.2" fill="none" stroke-linejoin="round"/>
<path d="M391.20,282.70 V350.40" stroke="#111" stroke-width="1.5" fill="none"/>
<path d="M388.00,350.40 H495.20" stroke="#111" stroke-width="1.5" fill="none"/>
<path d="M388.00,350.40 H391.20" stroke="#111" stroke-width="1.2"/>
<path d="M388.00,317.90 H391.20" stroke="#111" stroke-width="1.2"/>
<path d="M388.00,285.40 H391.20" stroke="#111" stroke-width="1.2"/>
<path d="M389.60,343.90 H391.20" stroke="#111" stroke-width="1"/>
<path d="M389.60,337.40 H391.20" stroke="#111" stroke-width="1"/>
<path d="M389.60,330.90 H391.20" stroke="#111" stroke-width="1"/>
<path d="M389.60,324.40 H391.20" stroke="#111" stroke-width="1"/>
<path d="M389.60,311.40 H391.20" stroke="#111" stroke-width="1"/>
<path d="M389.60,304.90 H391.20" stroke="#111" stroke-width="1"/>
<path d="M389.60,298.40 H391.20" stroke="#111" stroke-width="1"/>
<path d="M389.60,291.90 H391.20" stroke="#111" stroke-width="1"/>
<text transform="translate(384.20,353.80) scale(0.9,1)" x="0" y="0" font-size="9.8" text-anchor="end" fill="#262626" stroke="#262626" stroke-width="0.05">0.5</text>
<text transform="translate(384.20,321.30) scale(0.9,1)" x="0" y="0" font-size="9.8" text-anchor="end" fill="#262626" stroke="#262626" stroke-width="0.05">1.0</text>
<text transform="translate(384.20,288.80) scale(0.9,1)" x="0" y="0" font-size="9.8" text-anchor="end" fill="#262626" stroke="#262626" stroke-width="0.05">1.5</text>
<path d="M391.20,350.40 V353.70" stroke="#111" stroke-width="1.2"/>
<text transform="translate(391.20,364.50) scale(0.9,1)" x="0" y="0" font-size="9.8" text-anchor="middle" fill="#262626" stroke="#262626" stroke-width="0.05">0</text>
<path d="M416.30,350.40 V353.70" stroke="#111" stroke-width="1.2"/>
<text transform="translate(416.30,364.50) scale(0.9,1)" x="0" y="0" font-size="9.8" text-anchor="middle" fill="#262626" stroke="#262626" stroke-width="0.05">2</text>
<path d="M441.40,350.40 V353.70" stroke="#111" stroke-width="1.2"/>
<text transform="translate(441.40,364.50) scale(0.9,1)" x="0" y="0" font-size="9.8" text-anchor="middle" fill="#262626" stroke="#262626" stroke-width="0.05">4</text>
<path d="M466.50,350.40 V353.70" stroke="#111" stroke-width="1.2"/>
<text transform="translate(466.50,364.50) scale(0.9,1)" x="0" y="0" font-size="9.8" text-anchor="middle" fill="#262626" stroke="#262626" stroke-width="0.05">6</text>
<path d="M491.60,350.40 V353.70" stroke="#111" stroke-width="1.2"/>
<text transform="translate(491.60,364.50) scale(0.9,1)" x="0" y="0" font-size="9.8" text-anchor="middle" fill="#262626" stroke="#262626" stroke-width="0.05">8</text>
<path d="M391.20,324.40 V330.25" stroke="#111" stroke-width="1.6" fill="none"/>
<path d="M389.10,324.40 H393.30 M389.10,330.25 H393.30" stroke="#111" stroke-width="1.7" fill="none"/>
<path d="M416.30,323.75 V330.25" stroke="#111" stroke-width="1.6" fill="none"/>
<path d="M414.20,323.75 H418.40 M414.20,330.25 H418.40" stroke="#111" stroke-width="1.7" fill="none"/>
<path d="M441.40,323.10 V329.60" stroke="#111" stroke-width="1.6" fill="none"/>
<path d="M439.30,323.10 H443.50 M439.30,329.60 H443.50" stroke="#111" stroke-width="1.7" fill="none"/>
<path d="M466.50,325.05 V328.95" stroke="#111" stroke-width="1.6" fill="none"/>
<path d="M464.40,325.05 H468.60 M464.40,328.95 H468.60" stroke="#111" stroke-width="1.7" fill="none"/>
<path d="M491.60,323.75 V330.90" stroke="#111" stroke-width="1.6" fill="none"/>
<path d="M489.50,323.75 H493.70 M489.50,330.90 H493.70" stroke="#111" stroke-width="1.7" fill="none"/>
<path d="M391.20,327.19 L416.30,326.67 L441.40,325.70 L466.50,327.19 L491.60,327.19" stroke="#8c1e47" stroke-width="2.2" fill="none" stroke-linejoin="round"/>
<path d="M58.80,396.30 V459.90" stroke="#111" stroke-width="1.5" fill="none"/>
<path d="M55.60,459.90 H166.90" stroke="#111" stroke-width="1.5" fill="none"/>
<path d="M55.60,459.90 H58.80" stroke="#111" stroke-width="1.2"/>
<path d="M55.60,444.67 H58.80" stroke="#111" stroke-width="1.2"/>
<path d="M55.60,429.45 H58.80" stroke="#111" stroke-width="1.2"/>
<path d="M55.60,414.23 H58.80" stroke="#111" stroke-width="1.2"/>
<path d="M55.60,399.00 H58.80" stroke="#111" stroke-width="1.2"/>
<text transform="translate(51.80,463.30) scale(0.9,1)" x="0" y="0" font-size="9.8" text-anchor="end" fill="#262626" stroke="#262626" stroke-width="0.05">0</text>
<text transform="translate(51.80,448.07) scale(0.9,1)" x="0" y="0" font-size="9.8" text-anchor="end" fill="#262626" stroke="#262626" stroke-width="0.05">1</text>
<text transform="translate(51.80,432.85) scale(0.9,1)" x="0" y="0" font-size="9.8" text-anchor="end" fill="#262626" stroke="#262626" stroke-width="0.05">2</text>
<text transform="translate(51.80,417.62) scale(0.9,1)" x="0" y="0" font-size="9.8" text-anchor="end" fill="#262626" stroke="#262626" stroke-width="0.05">3</text>
<text transform="translate(51.80,402.40) scale(0.9,1)" x="0" y="0" font-size="9.8" text-anchor="end" fill="#262626" stroke="#262626" stroke-width="0.05">4</text>
<path d="M58.80,459.90 V463.20" stroke="#111" stroke-width="1.2"/>
<text transform="translate(58.80,474.00) scale(0.9,1)" x="0" y="0" font-size="9.8" text-anchor="middle" fill="#262626" stroke="#262626" stroke-width="0.05">0</text>
<path d="M79.70,459.90 V463.20" stroke="#111" stroke-width="1.2"/>
<text transform="translate(79.70,474.00) scale(0.9,1)" x="0" y="0" font-size="9.8" text-anchor="middle" fill="#262626" stroke="#262626" stroke-width="0.05">2</text>
<path d="M100.60,459.90 V463.20" stroke="#111" stroke-width="1.2"/>
<text transform="translate(100.60,474.00) scale(0.9,1)" x="0" y="0" font-size="9.8" text-anchor="middle" fill="#262626" stroke="#262626" stroke-width="0.05">4</text>
<path d="M121.50,459.90 V463.20" stroke="#111" stroke-width="1.2"/>
<text transform="translate(121.50,474.00) scale(0.9,1)" x="0" y="0" font-size="9.8" text-anchor="middle" fill="#262626" stroke="#262626" stroke-width="0.05">6</text>
<path d="M142.40,459.90 V463.20" stroke="#111" stroke-width="1.2"/>
<text transform="translate(142.40,474.00) scale(0.9,1)" x="0" y="0" font-size="9.8" text-anchor="middle" fill="#262626" stroke="#262626" stroke-width="0.05">8</text>
<path d="M163.30,459.90 V463.20" stroke="#111" stroke-width="1.2"/>
<text transform="translate(163.30,474.00) scale(0.9,1)" x="0" y="0" font-size="9.8" text-anchor="middle" fill="#262626" stroke="#262626" stroke-width="0.05">10</text>
<path d="M58.80,433.26 V447.72" stroke="#111" stroke-width="1.6" fill="none"/>
<path d="M56.70,433.26 H60.90 M56.70,447.72 H60.90" stroke="#111" stroke-width="1.7" fill="none"/>
<path d="M79.70,424.12 V434.02" stroke="#111" stroke-width="1.6" fill="none"/>
<path d="M77.60,424.12 H81.80 M77.60,434.02 H81.80" stroke="#111" stroke-width="1.7" fill="none"/>
<path d="M100.60,425.49 V433.87" stroke="#111" stroke-width="1.6" fill="none"/>
<path d="M98.50,425.49 H102.70 M98.50,433.87 H102.70" stroke="#111" stroke-width="1.7" fill="none"/>
<path d="M121.50,421.69 V430.67" stroke="#111" stroke-width="1.6" fill="none"/>
<path d="M119.40,421.69 H123.60 M119.40,430.67 H123.60" stroke="#111" stroke-width="1.7" fill="none"/>
<path d="M142.40,429.15 V437.82" stroke="#111" stroke-width="1.6" fill="none"/>
<path d="M140.30,429.15 H144.50 M140.30,437.82 H144.50" stroke="#111" stroke-width="1.7" fill="none"/>
<path d="M163.30,438.89 V441.78" stroke="#111" stroke-width="1.6" fill="none"/>
<path d="M161.20,438.89 H165.40 M161.20,441.78 H165.40" stroke="#111" stroke-width="1.7" fill="none"/>
<path d="M58.80,440.72 L79.70,428.69 L100.60,429.45 L121.50,426.25 L142.40,433.26 L163.30,440.26" stroke="#8c1e47" stroke-width="2.2" fill="none" stroke-linejoin="round"/>
<path d="M224.90,396.30 V459.90" stroke="#111" stroke-width="1.5" fill="none"/>
<path d="M221.70,459.90 H328.90" stroke="#111" stroke-width="1.5" fill="none"/>
<path d="M221.70,459.90 H224.90" stroke="#111" stroke-width="1.2"/>
<path d="M221.70,444.67 H224.90" stroke="#111" stroke-width="1.2"/>
<path d="M221.70,429.45 H224.90" stroke="#111" stroke-width="1.2"/>
<path d="M221.70,414.23 H224.90" stroke="#111" stroke-width="1.2"/>
<path d="M221.70,399.00 H224.90" stroke="#111" stroke-width="1.2"/>
<text transform="translate(217.90,463.30) scale(0.9,1)" x="0" y="0" font-size="9.8" text-anchor="end" fill="#262626" stroke="#262626" stroke-width="0.05">0</text>
<text transform="translate(217.90,448.07) scale(0.9,1)" x="0" y="0" font-size="9.8" text-anchor="end" fill="#262626" stroke="#262626" stroke-width="0.05">1</text>
<text transform="translate(217.90,432.85) scale(0.9,1)" x="0" y="0" font-size="9.8" text-anchor="end" fill="#262626" stroke="#262626" stroke-width="0.05">2</text>
<text transform="translate(217.90,417.62) scale(0.9,1)" x="0" y="0" font-size="9.8" text-anchor="end" fill="#262626" stroke="#262626" stroke-width="0.05">3</text>
<text transform="translate(217.90,402.40) scale(0.9,1)" x="0" y="0" font-size="9.8" text-anchor="end" fill="#262626" stroke="#262626" stroke-width="0.05">4</text>
<path d="M224.90,459.90 V463.20" stroke="#111" stroke-width="1.2"/>
<text transform="translate(224.90,474.00) scale(0.9,1)" x="0" y="0" font-size="9.8" text-anchor="middle" fill="#262626" stroke="#262626" stroke-width="0.05">0</text>
<path d="M250.00,459.90 V463.20" stroke="#111" stroke-width="1.2"/>
<text transform="translate(250.00,474.00) scale(0.9,1)" x="0" y="0" font-size="9.8" text-anchor="middle" fill="#262626" stroke="#262626" stroke-width="0.05">2</text>
<path d="M275.10,459.90 V463.20" stroke="#111" stroke-width="1.2"/>
<text transform="translate(275.10,474.00) scale(0.9,1)" x="0" y="0" font-size="9.8" text-anchor="middle" fill="#262626" stroke="#262626" stroke-width="0.05">4</text>
<path d="M300.20,459.90 V463.20" stroke="#111" stroke-width="1.2"/>
<text transform="translate(300.20,474.00) scale(0.9,1)" x="0" y="0" font-size="9.8" text-anchor="middle" fill="#262626" stroke="#262626" stroke-width="0.05">6</text>
<path d="M325.30,459.90 V463.20" stroke="#111" stroke-width="1.2"/>
<text transform="translate(325.30,474.00) scale(0.9,1)" x="0" y="0" font-size="9.8" text-anchor="middle" fill="#262626" stroke="#262626" stroke-width="0.05">8</text>
<path d="M224.90,420.92 V434.78" stroke="#111" stroke-width="1.6" fill="none"/>
<path d="M222.80,420.92 H227.00 M222.80,434.78 H227.00" stroke="#111" stroke-width="1.7" fill="none"/>
<path d="M250.00,420.31 V432.95" stroke="#111" stroke-width="1.6" fill="none"/>
<path d="M247.90,420.31 H252.10 M247.90,432.95 H252.10" stroke="#111" stroke-width="1.7" fill="none"/>
<path d="M275.10,423.06 V431.89" stroke="#111" stroke-width="1.6" fill="none"/>
<path d="M273.00,423.06 H277.20 M273.00,431.89 H277.20" stroke="#111" stroke-width="1.7" fill="none"/>
<path d="M300.20,422.60 V434.32" stroke="#111" stroke-width="1.6" fill="none"/>
<path d="M298.10,422.60 H302.30 M298.10,434.32 H302.30" stroke="#111" stroke-width="1.7" fill="none"/>
<path d="M325.30,418.79 V438.58" stroke="#111" stroke-width="1.6" fill="none"/>
<path d="M323.20,418.79 H327.40 M323.20,438.58 H327.40" stroke="#111" stroke-width="1.7" fill="none"/>
<path d="M224.90,427.62 L250.00,426.40 L275.10,428.23 L300.20,428.84 L325.30,428.69" stroke="#8c1e47" stroke-width="2.2" fill="none" stroke-linejoin="round"/>
<path d="M391.20,400.40 V459.80" stroke="#111" stroke-width="1.5" fill="none"/>
<path d="M388.00,459.80 H495.20" stroke="#111" stroke-width="1.5" fill="none"/>
<path d="M388.00,459.80 H391.20" stroke="#111" stroke-width="1.2"/>
<path d="M388.00,445.62 H391.20" stroke="#111" stroke-width="1.2"/>
<path d="M388.00,431.45 H391.20" stroke="#111" stroke-width="1.2"/>
<path d="M388.00,417.28 H391.20" stroke="#111" stroke-width="1.2"/>
<path d="M388.00,403.10 H391.20" stroke="#111" stroke-width="1.2"/>
<text transform="translate(384.20,463.20) scale(0.9,1)" x="0" y="0" font-size="9.8" text-anchor="end" fill="#262626" stroke="#262626" stroke-width="0.05">0</text>
<text transform="translate(384.20,449.02) scale(0.9,1)" x="0" y="0" font-size="9.8" text-anchor="end" fill="#262626" stroke="#262626" stroke-width="0.05">1</text>
<text transform="translate(384.20,434.85) scale(0.9,1)" x="0" y="0" font-size="9.8" text-anchor="end" fill="#262626" stroke="#262626" stroke-width="0.05">2</text>
<text transform="translate(384.20,420.68) scale(0.9,1)" x="0" y="0" font-size="9.8" text-anchor="end" fill="#262626" stroke="#262626" stroke-width="0.05">3</text>
<text transform="translate(384.20,406.50) scale(0.9,1)" x="0" y="0" font-size="9.8" text-anchor="end" fill="#262626" stroke="#262626" stroke-width="0.05">4</text>
<path d="M391.20,459.80 V463.10" stroke="#111" stroke-width="1.2"/>
<text transform="translate(391.20,473.90) scale(0.9,1)" x="0" y="0" font-size="9.8" text-anchor="middle" fill="#262626" stroke="#262626" stroke-width="0.05">0</text>
<path d="M416.30,459.80 V463.10" stroke="#111" stroke-width="1.2"/>
<text transform="translate(416.30,473.90) scale(0.9,1)" x="0" y="0" font-size="9.8" text-anchor="middle" fill="#262626" stroke="#262626" stroke-width="0.05">2</text>
<path d="M441.40,459.80 V463.10" stroke="#111" stroke-width="1.2"/>
<text transform="translate(441.40,473.90) scale(0.9,1)" x="0" y="0" font-size="9.8" text-anchor="middle" fill="#262626" stroke="#262626" stroke-width="0.05">4</text>
<path d="M466.50,459.80 V463.10" stroke="#111" stroke-width="1.2"/>
<text transform="translate(466.50,473.90) scale(0.9,1)" x="0" y="0" font-size="9.8" text-anchor="middle" fill="#262626" stroke="#262626" stroke-width="0.05">6</text>
<path d="M491.60,459.80 V463.10" stroke="#111" stroke-width="1.2"/>
<text transform="translate(491.60,473.90) scale(0.9,1)" x="0" y="0" font-size="9.8" text-anchor="middle" fill="#262626" stroke="#262626" stroke-width="0.05">8</text>
<path d="M391.20,412.17 V428.62" stroke="#111" stroke-width="1.6" fill="none"/>
<path d="M389.10,412.17 H393.30 M389.10,428.62 H393.30" stroke="#111" stroke-width="1.7" fill="none"/>
<path d="M416.30,407.92 V427.76" stroke="#111" stroke-width="1.6" fill="none"/>
<path d="M414.20,407.92 H418.40 M414.20,427.76 H418.40" stroke="#111" stroke-width="1.7" fill="none"/>
<path d="M441.40,407.35 V430.17" stroke="#111" stroke-width="1.6" fill="none"/>
<path d="M439.30,407.35 H443.50 M439.30,430.17 H443.50" stroke="#111" stroke-width="1.7" fill="none"/>
<path d="M466.50,413.02 V426.21" stroke="#111" stroke-width="1.6" fill="none"/>
<path d="M464.40,413.02 H468.60 M464.40,426.21 H468.60" stroke="#111" stroke-width="1.7" fill="none"/>
<path d="M491.60,410.33 V430.17" stroke="#111" stroke-width="1.6" fill="none"/>
<path d="M489.50,410.33 H493.70 M489.50,430.17 H493.70" stroke="#111" stroke-width="1.7" fill="none"/>
<path d="M391.20,420.11 L416.30,417.84 L441.40,418.55 L466.50,419.26 L491.60,420.11" stroke="#8c1e47" stroke-width="2.2" fill="none" stroke-linejoin="round"/>
<path d="M58.80,505.50 V566.30" stroke="#111" stroke-width="1.5" fill="none"/>
<path d="M55.60,566.30 H166.90" stroke="#111" stroke-width="1.5" fill="none"/>
<path d="M55.60,566.30 H58.80" stroke="#111" stroke-width="1.2"/>
<path d="M55.60,546.93 H58.80" stroke="#111" stroke-width="1.2"/>
<path d="M55.60,527.57 H58.80" stroke="#111" stroke-width="1.2"/>
<path d="M55.60,508.20 H58.80" stroke="#111" stroke-width="1.2"/>
<text transform="translate(51.80,569.70) scale(0.9,1)" x="0" y="0" font-size="9.8" text-anchor="end" fill="#262626" stroke="#262626" stroke-width="0.05">0</text>
<text transform="translate(51.80,550.33) scale(0.9,1)" x="0" y="0" font-size="9.8" text-anchor="end" fill="#262626" stroke="#262626" stroke-width="0.05">1</text>
<text transform="translate(51.80,530.97) scale(0.9,1)" x="0" y="0" font-size="9.8" text-anchor="end" fill="#262626" stroke="#262626" stroke-width="0.05">2</text>
<text transform="translate(51.80,511.60) scale(0.9,1)" x="0" y="0" font-size="9.8" text-anchor="end" fill="#262626" stroke="#262626" stroke-width="0.05">3</text>
<path d="M58.80,566.30 V569.60" stroke="#111" stroke-width="1.2"/>
<text transform="translate(58.80,580.40) scale(0.9,1)" x="0" y="0" font-size="9.8" text-anchor="middle" fill="#262626" stroke="#262626" stroke-width="0.05">0</text>
<path d="M79.70,566.30 V569.60" stroke="#111" stroke-width="1.2"/>
<text transform="translate(79.70,580.40) scale(0.9,1)" x="0" y="0" font-size="9.8" text-anchor="middle" fill="#262626" stroke="#262626" stroke-width="0.05">2</text>
<path d="M100.60,566.30 V569.60" stroke="#111" stroke-width="1.2"/>
<text transform="translate(100.60,580.40) scale(0.9,1)" x="0" y="0" font-size="9.8" text-anchor="middle" fill="#262626" stroke="#262626" stroke-width="0.05">4</text>
<path d="M121.50,566.30 V569.60" stroke="#111" stroke-width="1.2"/>
<text transform="translate(121.50,580.40) scale(0.9,1)" x="0" y="0" font-size="9.8" text-anchor="middle" fill="#262626" stroke="#262626" stroke-width="0.05">6</text>
<path d="M142.40,566.30 V569.60" stroke="#111" stroke-width="1.2"/>
<text transform="translate(142.40,580.40) scale(0.9,1)" x="0" y="0" font-size="9.8" text-anchor="middle" fill="#262626" stroke="#262626" stroke-width="0.05">8</text>
<path d="M163.30,566.30 V569.60" stroke="#111" stroke-width="1.2"/>
<text transform="translate(163.30,580.40) scale(0.9,1)" x="0" y="0" font-size="9.8" text-anchor="middle" fill="#262626" stroke="#262626" stroke-width="0.05">10</text>
<path d="M58.80,545.38 V547.32" stroke="#111" stroke-width="1.6" fill="none"/>
<path d="M56.70,545.38 H60.90 M56.70,547.32 H60.90" stroke="#111" stroke-width="1.7" fill="none"/>
<path d="M79.70,543.83 V545.77" stroke="#111" stroke-width="1.6" fill="none"/>
<path d="M77.60,543.83 H81.80 M77.60,545.77 H81.80" stroke="#111" stroke-width="1.7" fill="none"/>
<path d="M100.60,528.53 V537.25" stroke="#111" stroke-width="1.6" fill="none"/>
<path d="M98.50,528.53 H102.70 M98.50,537.25 H102.70" stroke="#111" stroke-width="1.7" fill="none"/>
<path d="M121.50,532.80 V539.38" stroke="#111" stroke-width="1.6" fill="none"/>
<path d="M119.40,532.80 H123.60 M119.40,539.38 H123.60" stroke="#111" stroke-width="1.7" fill="none"/>
<path d="M142.40,535.70 V542.48" stroke="#111" stroke-width="1.6" fill="none"/>
<path d="M140.30,535.70 H144.50 M140.30,542.48 H144.50" stroke="#111" stroke-width="1.7" fill="none"/>
<path d="M163.30,545.00 V546.93" stroke="#111" stroke-width="1.6" fill="none"/>
<path d="M161.20,545.00 H165.40 M161.20,546.93 H165.40" stroke="#111" stroke-width="1.7" fill="none"/>
<path d="M58.80,546.35 L79.70,544.80 L100.60,533.18 L121.50,536.28 L142.40,538.61 L163.30,545.96" stroke="#8c1e47" stroke-width="2.2" fill="none" stroke-linejoin="round"/>
<path d="M224.90,504.80 V566.30" stroke="#111" stroke-width="1.5" fill="none"/>
<path d="M221.70,566.30 H328.90" stroke="#111" stroke-width="1.5" fill="none"/>
<path d="M221.70,566.30 H224.90" stroke="#111" stroke-width="1.2"/>
<path d="M221.70,546.70 H224.90" stroke="#111" stroke-width="1.2"/>
<path d="M221.70,527.10 H224.90" stroke="#111" stroke-width="1.2"/>
<path d="M221.70,507.50 H224.90" stroke="#111" stroke-width="1.2"/>
<text transform="translate(217.90,569.70) scale(0.9,1)" x="0" y="0" font-size="9.8" text-anchor="end" fill="#262626" stroke="#262626" stroke-width="0.05">0</text>
<text transform="translate(217.90,550.10) scale(0.9,1)" x="0" y="0" font-size="9.8" text-anchor="end" fill="#262626" stroke="#262626" stroke-width="0.05">1</text>
<text transform="translate(217.90,530.50) scale(0.9,1)" x="0" y="0" font-size="9.8" text-anchor="end" fill="#262626" stroke="#262626" stroke-width="0.05">2</text>
<text transform="translate(217.90,510.90) scale(0.9,1)" x="0" y="0" font-size="9.8" text-anchor="end" fill="#262626" stroke="#262626" stroke-width="0.05">3</text>
<path d="M224.90,566.30 V569.60" stroke="#111" stroke-width="1.2"/>
<text transform="translate(224.90,580.40) scale(0.9,1)" x="0" y="0" font-size="9.8" text-anchor="middle" fill="#262626" stroke="#262626" stroke-width="0.05">0</text>
<path d="M250.00,566.30 V569.60" stroke="#111" stroke-width="1.2"/>
<text transform="translate(250.00,580.40) scale(0.9,1)" x="0" y="0" font-size="9.8" text-anchor="middle" fill="#262626" stroke="#262626" stroke-width="0.05">2</text>
<path d="M275.10,566.30 V569.60" stroke="#111" stroke-width="1.2"/>
<text transform="translate(275.10,580.40) scale(0.9,1)" x="0" y="0" font-size="9.8" text-anchor="middle" fill="#262626" stroke="#262626" stroke-width="0.05">4</text>
<path d="M300.20,566.30 V569.60" stroke="#111" stroke-width="1.2"/>
<text transform="translate(300.20,580.40) scale(0.9,1)" x="0" y="0" font-size="9.8" text-anchor="middle" fill="#262626" stroke="#262626" stroke-width="0.05">6</text>
<path d="M325.30,566.30 V569.60" stroke="#111" stroke-width="1.2"/>
<text transform="translate(325.30,580.40) scale(0.9,1)" x="0" y="0" font-size="9.8" text-anchor="middle" fill="#262626" stroke="#262626" stroke-width="0.05">8</text>
<path d="M224.90,544.74 V546.70" stroke="#111" stroke-width="1.6" fill="none"/>
<path d="M222.80,544.74 H227.00 M222.80,546.70 H227.00" stroke="#111" stroke-width="1.7" fill="none"/>
<path d="M250.00,545.13 V549.05" stroke="#111" stroke-width="1.6" fill="none"/>
<path d="M247.90,545.13 H252.10 M247.90,549.05 H252.10" stroke="#111" stroke-width="1.7" fill="none"/>
<path d="M275.10,544.94 V547.29" stroke="#111" stroke-width="1.6" fill="none"/>
<path d="M273.00,544.94 H277.20 M273.00,547.29 H277.20" stroke="#111" stroke-width="1.7" fill="none"/>
<path d="M300.20,544.94 V547.29" stroke="#111" stroke-width="1.6" fill="none"/>
<path d="M298.10,544.94 H302.30 M298.10,547.29 H302.30" stroke="#111" stroke-width="1.7" fill="none"/>
<path d="M325.30,544.54 V546.90" stroke="#111" stroke-width="1.6" fill="none"/>
<path d="M323.20,544.54 H327.40 M323.20,546.90 H327.40" stroke="#111" stroke-width="1.7" fill="none"/>
<path d="M224.90,545.72 L250.00,547.29 L275.10,546.11 L300.20,546.11 L325.30,545.72" stroke="#8c1e47" stroke-width="2.2" fill="none" stroke-linejoin="round"/>
<path d="M391.20,504.80 V566.20" stroke="#111" stroke-width="1.5" fill="none"/>
<path d="M388.00,566.20 H495.20" stroke="#111" stroke-width="1.5" fill="none"/>
<path d="M388.00,566.20 H391.20" stroke="#111" stroke-width="1.2"/>
<path d="M388.00,546.63 H391.20" stroke="#111" stroke-width="1.2"/>
<path d="M388.00,527.07 H391.20" stroke="#111" stroke-width="1.2"/>
<path d="M388.00,507.50 H391.20" stroke="#111" stroke-width="1.2"/>
<text transform="translate(384.20,569.60) scale(0.9,1)" x="0" y="0" font-size="9.8" text-anchor="end" fill="#262626" stroke="#262626" stroke-width="0.05">0</text>
<text transform="translate(384.20,550.03) scale(0.9,1)" x="0" y="0" font-size="9.8" text-anchor="end" fill="#262626" stroke="#262626" stroke-width="0.05">1</text>
<text transform="translate(384.20,530.47) scale(0.9,1)" x="0" y="0" font-size="9.8" text-anchor="end" fill="#262626" stroke="#262626" stroke-width="0.05">2</text>
<text transform="translate(384.20,510.90) scale(0.9,1)" x="0" y="0" font-size="9.8" text-anchor="end" fill="#262626" stroke="#262626" stroke-width="0.05">3</text>
<path d="M391.20,566.20 V569.50" stroke="#111" stroke-width="1.2"/>
<text transform="translate(391.20,580.30) scale(0.9,1)" x="0" y="0" font-size="9.8" text-anchor="middle" fill="#262626" stroke="#262626" stroke-width="0.05">0</text>
<path d="M416.30,566.20 V569.50" stroke="#111" stroke-width="1.2"/>
<text transform="translate(416.30,580.30) scale(0.9,1)" x="0" y="0" font-size="9.8" text-anchor="middle" fill="#262626" stroke="#262626" stroke-width="0.05">2</text>
<path d="M441.40,566.20 V569.50" stroke="#111" stroke-width="1.2"/>
<text transform="translate(441.40,580.30) scale(0.9,1)" x="0" y="0" font-size="9.8" text-anchor="middle" fill="#262626" stroke="#262626" stroke-width="0.05">4</text>
<path d="M466.50,566.20 V569.50" stroke="#111" stroke-width="1.2"/>
<text transform="translate(466.50,580.30) scale(0.9,1)" x="0" y="0" font-size="9.8" text-anchor="middle" fill="#262626" stroke="#262626" stroke-width="0.05">6</text>
<path d="M491.60,566.20 V569.50" stroke="#111" stroke-width="1.2"/>
<text transform="translate(491.60,580.30) scale(0.9,1)" x="0" y="0" font-size="9.8" text-anchor="middle" fill="#262626" stroke="#262626" stroke-width="0.05">8</text>
<path d="M391.20,530.98 V533.72" stroke="#111" stroke-width="1.6" fill="none"/>
<path d="M389.10,530.98 H393.30 M389.10,533.72 H393.30" stroke="#111" stroke-width="1.7" fill="none"/>
<path d="M416.30,524.52 V527.26" stroke="#111" stroke-width="1.6" fill="none"/>
<path d="M414.20,524.52 H418.40 M414.20,527.26 H418.40" stroke="#111" stroke-width="1.7" fill="none"/>
<path d="M441.40,520.81 V522.76" stroke="#111" stroke-width="1.6" fill="none"/>
<path d="M439.30,520.81 H443.50 M439.30,522.76 H443.50" stroke="#111" stroke-width="1.7" fill="none"/>
<path d="M466.50,523.35 V524.91" stroke="#111" stroke-width="1.6" fill="none"/>
<path d="M464.40,523.35 H468.60 M464.40,524.91 H468.60" stroke="#111" stroke-width="1.7" fill="none"/>
<path d="M491.60,525.11 V527.85" stroke="#111" stroke-width="1.6" fill="none"/>
<path d="M489.50,525.11 H493.70 M489.50,527.85 H493.70" stroke="#111" stroke-width="1.7" fill="none"/>
<path d="M391.20,532.35 L416.30,525.89 L441.40,521.78 L466.50,524.13 L491.60,526.48" stroke="#8c1e47" stroke-width="2.2" fill="none" stroke-linejoin="round"/>
<path d="M58.80,618.50 V679.50" stroke="#111" stroke-width="1.5" fill="none"/>
<path d="M55.60,679.50 H166.90" stroke="#111" stroke-width="1.5" fill="none"/>
<path d="M55.60,679.50 H58.80" stroke="#111" stroke-width="1.2"/>
<path d="M55.60,660.07 H58.80" stroke="#111" stroke-width="1.2"/>
<path d="M55.60,640.63 H58.80" stroke="#111" stroke-width="1.2"/>
<path d="M55.60,621.20 H58.80" stroke="#111" stroke-width="1.2"/>
<text transform="translate(51.80,682.90) scale(0.9,1)" x="0" y="0" font-size="9.8" text-anchor="end" fill="#262626" stroke="#262626" stroke-width="0.05">0</text>
<text transform="translate(51.80,663.47) scale(0.9,1)" x="0" y="0" font-size="9.8" text-anchor="end" fill="#262626" stroke="#262626" stroke-width="0.05">1</text>
<text transform="translate(51.80,644.03) scale(0.9,1)" x="0" y="0" font-size="9.8" text-anchor="end" fill="#262626" stroke="#262626" stroke-width="0.05">2</text>
<text transform="translate(51.80,624.60) scale(0.9,1)" x="0" y="0" font-size="9.8" text-anchor="end" fill="#262626" stroke="#262626" stroke-width="0.05">3</text>
<path d="M58.80,679.50 V682.80" stroke="#111" stroke-width="1.2"/>
<text transform="translate(58.80,693.60) scale(0.9,1)" x="0" y="0" font-size="9.8" text-anchor="middle" fill="#262626" stroke="#262626" stroke-width="0.05">0</text>
<path d="M79.70,679.50 V682.80" stroke="#111" stroke-width="1.2"/>
<text transform="translate(79.70,693.60) scale(0.9,1)" x="0" y="0" font-size="9.8" text-anchor="middle" fill="#262626" stroke="#262626" stroke-width="0.05">2</text>
<path d="M100.60,679.50 V682.80" stroke="#111" stroke-width="1.2"/>
<text transform="translate(100.60,693.60) scale(0.9,1)" x="0" y="0" font-size="9.8" text-anchor="middle" fill="#262626" stroke="#262626" stroke-width="0.05">4</text>
<path d="M121.50,679.50 V682.80" stroke="#111" stroke-width="1.2"/>
<text transform="translate(121.50,693.60) scale(0.9,1)" x="0" y="0" font-size="9.8" text-anchor="middle" fill="#262626" stroke="#262626" stroke-width="0.05">6</text>
<path d="M142.40,679.50 V682.80" stroke="#111" stroke-width="1.2"/>
<text transform="translate(142.40,693.60) scale(0.9,1)" x="0" y="0" font-size="9.8" text-anchor="middle" fill="#262626" stroke="#262626" stroke-width="0.05">8</text>
<path d="M163.30,679.50 V682.80" stroke="#111" stroke-width="1.2"/>
<text transform="translate(163.30,693.60) scale(0.9,1)" x="0" y="0" font-size="9.8" text-anchor="middle" fill="#262626" stroke="#262626" stroke-width="0.05">10</text>
<path d="M58.80,653.26 V657.35" stroke="#111" stroke-width="1.6" fill="none"/>
<path d="M56.70,653.26 H60.90 M56.70,657.35 H60.90" stroke="#111" stroke-width="1.7" fill="none"/>
<path d="M79.70,648.60 V660.26" stroke="#111" stroke-width="1.6" fill="none"/>
<path d="M77.60,648.60 H81.80 M77.60,660.26 H81.80" stroke="#111" stroke-width="1.7" fill="none"/>
<path d="M100.60,651.52 V660.84" stroke="#111" stroke-width="1.6" fill="none"/>
<path d="M98.50,651.52 H102.70 M98.50,660.84 H102.70" stroke="#111" stroke-width="1.7" fill="none"/>
<path d="M121.50,628.20 V646.46" stroke="#111" stroke-width="1.6" fill="none"/>
<path d="M119.40,628.20 H123.60 M119.40,646.46 H123.60" stroke="#111" stroke-width="1.7" fill="none"/>
<path d="M142.40,645.88 V655.79" stroke="#111" stroke-width="1.6" fill="none"/>
<path d="M140.30,645.88 H144.50 M140.30,655.79 H144.50" stroke="#111" stroke-width="1.7" fill="none"/>
<path d="M163.30,648.60 V658.51" stroke="#111" stroke-width="1.6" fill="none"/>
<path d="M161.20,648.60 H165.40 M161.20,658.51 H165.40" stroke="#111" stroke-width="1.7" fill="none"/>
<path d="M58.80,655.01 L79.70,654.24 L100.60,655.79 L121.50,636.75 L142.40,649.77 L163.30,653.07" stroke="#8c1e47" stroke-width="2.2" fill="none" stroke-linejoin="round"/>
<path d="M224.90,611.60 V679.50" stroke="#111" stroke-width="1.5" fill="none"/>
<path d="M221.70,679.50 H328.90" stroke="#111" stroke-width="1.5" fill="none"/>
<path d="M221.70,679.50 H224.90" stroke="#111" stroke-width="1.2"/>
<path d="M221.70,657.77 H224.90" stroke="#111" stroke-width="1.2"/>
<path d="M221.70,636.03 H224.90" stroke="#111" stroke-width="1.2"/>
<path d="M221.70,614.30 H224.90" stroke="#111" stroke-width="1.2"/>
<text transform="translate(217.90,682.90) scale(0.9,1)" x="0" y="0" font-size="9.8" text-anchor="end" fill="#262626" stroke="#262626" stroke-width="0.05">0</text>
<text transform="translate(217.90,661.17) scale(0.9,1)" x="0" y="0" font-size="9.8" text-anchor="end" fill="#262626" stroke="#262626" stroke-width="0.05">1</text>
<text transform="translate(217.90,639.43) scale(0.9,1)" x="0" y="0" font-size="9.8" text-anchor="end" fill="#262626" stroke="#262626" stroke-width="0.05">2</text>
<text transform="translate(217.90,617.70) scale(0.9,1)" x="0" y="0" font-size="9.8" text-anchor="end" fill="#262626" stroke="#262626" stroke-width="0.05">3</text>
<path d="M224.90,679.50 V682.80" stroke="#111" stroke-width="1.2"/>
<text transform="translate(224.90,693.60) scale(0.9,1)" x="0" y="0" font-size="9.8" text-anchor="middle" fill="#262626" stroke="#262626" stroke-width="0.05">0</text>
<path d="M250.00,679.50 V682.80" stroke="#111" stroke-width="1.2"/>
<text transform="translate(250.00,693.60) scale(0.9,1)" x="0" y="0" font-size="9.8" text-anchor="middle" fill="#262626" stroke="#262626" stroke-width="0.05">2</text>
<path d="M275.10,679.50 V682.80" stroke="#111" stroke-width="1.2"/>
<text transform="translate(275.10,693.60) scale(0.9,1)" x="0" y="0" font-size="9.8" text-anchor="middle" fill="#262626" stroke="#262626" stroke-width="0.05">4</text>
<path d="M300.20,679.50 V682.80" stroke="#111" stroke-width="1.2"/>
<text transform="translate(300.20,693.60) scale(0.9,1)" x="0" y="0" font-size="9.8" text-anchor="middle" fill="#262626" stroke="#262626" stroke-width="0.05">6</text>
<path d="M325.30,679.50 V682.80" stroke="#111" stroke-width="1.2"/>
<text transform="translate(325.30,693.60) scale(0.9,1)" x="0" y="0" font-size="9.8" text-anchor="middle" fill="#262626" stroke="#262626" stroke-width="0.05">8</text>
<path d="M224.90,640.81 V651.68" stroke="#111" stroke-width="1.6" fill="none"/>
<path d="M222.80,640.81 H227.00 M222.80,651.68 H227.00" stroke="#111" stroke-width="1.7" fill="none"/>
<path d="M250.00,642.55 V651.46" stroke="#111" stroke-width="1.6" fill="none"/>
<path d="M247.90,642.55 H252.10 M247.90,651.46 H252.10" stroke="#111" stroke-width="1.7" fill="none"/>
<path d="M275.10,643.86 V649.07" stroke="#111" stroke-width="1.6" fill="none"/>
<path d="M273.00,643.86 H277.20 M273.00,649.07 H277.20" stroke="#111" stroke-width="1.7" fill="none"/>
<path d="M300.20,642.34 V648.64" stroke="#111" stroke-width="1.6" fill="none"/>
<path d="M298.10,642.34 H302.30 M298.10,648.64 H302.30" stroke="#111" stroke-width="1.7" fill="none"/>
<path d="M325.30,641.25 V648.64" stroke="#111" stroke-width="1.6" fill="none"/>
<path d="M323.20,641.25 H327.40 M323.20,648.64 H327.40" stroke="#111" stroke-width="1.7" fill="none"/>
<path d="M224.90,644.94 L250.00,646.90 L275.10,646.03 L300.20,644.94 L325.30,644.73" stroke="#8c1e47" stroke-width="2.2" fill="none" stroke-linejoin="round"/>
<path d="M391.20,611.50 V679.30" stroke="#111" stroke-width="1.5" fill="none"/>
<path d="M388.00,679.30 H495.20" stroke="#111" stroke-width="1.5" fill="none"/>
<path d="M388.00,679.30 H391.20" stroke="#111" stroke-width="1.2"/>
<path d="M388.00,657.60 H391.20" stroke="#111" stroke-width="1.2"/>
<path d="M388.00,635.90 H391.20" stroke="#111" stroke-width="1.2"/>
<path d="M388.00,614.20 H391.20" stroke="#111" stroke-width="1.2"/>
<text transform="translate(384.20,682.70) scale(0.9,1)" x="0" y="0" font-size="9.8" text-anchor="end" fill="#262626" stroke="#262626" stroke-width="0.05">0</text>
<text transform="translate(384.20,661.00) scale(0.9,1)" x="0" y="0" font-size="9.8" text-anchor="end" fill="#262626" stroke="#262626" stroke-width="0.05">1</text>
<text transform="translate(384.20,639.30) scale(0.9,1)" x="0" y="0" font-size="9.8" text-anchor="end" fill="#262626" stroke="#262626" stroke-width="0.05">2</text>
<text transform="translate(384.20,617.60) scale(0.9,1)" x="0" y="0" font-size="9.8" text-anchor="end" fill="#262626" stroke="#262626" stroke-width="0.05">3</text>
<path d="M391.20,679.30 V682.60" stroke="#111" stroke-width="1.2"/>
<text transform="translate(391.20,693.40) scale(0.9,1)" x="0" y="0" font-size="9.8" text-anchor="middle" fill="#262626" stroke="#262626" stroke-width="0.05">0</text>
<path d="M416.30,679.30 V682.60" stroke="#111" stroke-width="1.2"/>
<text transform="translate(416.30,693.40) scale(0.9,1)" x="0" y="0" font-size="9.8" text-anchor="middle" fill="#262626" stroke="#262626" stroke-width="0.05">2</text>
<path d="M441.40,679.30 V682.60" stroke="#111" stroke-width="1.2"/>
<text transform="translate(441.40,693.40) scale(0.9,1)" x="0" y="0" font-size="9.8" text-anchor="middle" fill="#262626" stroke="#262626" stroke-width="0.05">4</text>
<path d="M466.50,679.30 V682.60" stroke="#111" stroke-width="1.2"/>
<text transform="translate(466.50,693.40) scale(0.9,1)" x="0" y="0" font-size="9.8" text-anchor="middle" fill="#262626" stroke="#262626" stroke-width="0.05">6</text>
<path d="M491.60,679.30 V682.60" stroke="#111" stroke-width="1.2"/>
<text transform="translate(491.60,693.40) scale(0.9,1)" x="0" y="0" font-size="9.8" text-anchor="middle" fill="#262626" stroke="#262626" stroke-width="0.05">8</text>
<path d="M391.20,646.75 V659.12" stroke="#111" stroke-width="1.6" fill="none"/>
<path d="M389.10,646.75 H393.30 M389.10,659.12 H393.30" stroke="#111" stroke-width="1.7" fill="none"/>
<path d="M416.30,644.58 V659.12" stroke="#111" stroke-width="1.6" fill="none"/>
<path d="M414.20,644.58 H418.40 M414.20,659.12 H418.40" stroke="#111" stroke-width="1.7" fill="none"/>
<path d="M441.40,644.58 V658.03" stroke="#111" stroke-width="1.6" fill="none"/>
<path d="M439.30,644.58 H443.50 M439.30,658.03 H443.50" stroke="#111" stroke-width="1.7" fill="none"/>
<path d="M466.50,648.27 V657.60" stroke="#111" stroke-width="1.6" fill="none"/>
<path d="M464.40,648.27 H468.60 M464.40,657.60 H468.60" stroke="#111" stroke-width="1.7" fill="none"/>
<path d="M491.60,646.10 V661.07" stroke="#111" stroke-width="1.6" fill="none"/>
<path d="M489.50,646.10 H493.70 M489.50,661.07 H493.70" stroke="#111" stroke-width="1.7" fill="none"/>
<path d="M391.20,653.91 L416.30,651.09 L441.40,651.74 L466.50,652.83 L491.60,653.48" stroke="#8c1e47" stroke-width="2.2" fill="none" stroke-linejoin="round"/>
<text transform="translate(40.30,89.20) rotate(-90)" x="0" y="0" font-size="8.3" text-anchor="middle" fill="#222" stroke="#222" stroke-width="0.15" textLength="54.40" lengthAdjust="spacingAndGlyphs">μmole/ml RBC</text>
<text transform="translate(207.20,89.20) rotate(-90)" x="0" y="0" font-size="8.3" text-anchor="middle" fill="#222" stroke="#222" stroke-width="0.15" textLength="54.40" lengthAdjust="spacingAndGlyphs">μmole/ml RBC</text>
<text transform="translate(373.70,89.20) rotate(-90)" x="0" y="0" font-size="8.3" text-anchor="middle" fill="#222" stroke="#222" stroke-width="0.15" textLength="54.40" lengthAdjust="spacingAndGlyphs">μmole/ml RBC</text>
<text transform="translate(29.40,202.50) rotate(-90)" x="0" y="0" font-size="8.3" text-anchor="middle" fill="#222" stroke="#222" stroke-width="0.15" textLength="40.00" lengthAdjust="spacingAndGlyphs">nmole/mg</text>
<text transform="translate(195.00,202.50) rotate(-90)" x="0" y="0" font-size="8.3" text-anchor="middle" fill="#222" stroke="#222" stroke-width="0.15" textLength="40.00" lengthAdjust="spacingAndGlyphs">nmole/ mg</text>
<text transform="translate(361.50,202.50) rotate(-90)" x="0" y="0" font-size="8.3" text-anchor="middle" fill="#222" stroke="#222" stroke-width="0.15" textLength="40.00" lengthAdjust="spacingAndGlyphs">nmole/ mg</text>
<text transform="translate(41.00,202.50) rotate(-90)" x="0" y="0" font-size="8.3" text-anchor="middle" fill="#222" stroke="#222" stroke-width="0.15" textLength="70.40" lengthAdjust="spacingAndGlyphs">membrane protein</text>
<text transform="translate(206.50,202.50) rotate(-90)" x="0" y="0" font-size="8.3" text-anchor="middle" fill="#222" stroke="#222" stroke-width="0.15" textLength="70.40" lengthAdjust="spacingAndGlyphs">membrane protein</text>
<text transform="translate(372.80,202.50) rotate(-90)" x="0" y="0" font-size="8.3" text-anchor="middle" fill="#222" stroke="#222" stroke-width="0.15" textLength="70.40" lengthAdjust="spacingAndGlyphs">membrane protein</text>
<text transform="translate(33.10,316.45) rotate(-90)" x="0" y="0" font-size="8.3" text-anchor="middle" fill="#222" stroke="#222" stroke-width="0.15" textLength="56.30" lengthAdjust="spacingAndGlyphs">Filtration index</text>
<text transform="translate(199.50,316.45) rotate(-90)" x="0" y="0" font-size="8.3" text-anchor="middle" fill="#222" stroke="#222" stroke-width="0.15" textLength="56.30" lengthAdjust="spacingAndGlyphs">Filtration index</text>
<text transform="translate(366.00,316.45) rotate(-90)" x="0" y="0" font-size="8.3" text-anchor="middle" fill="#222" stroke="#222" stroke-width="0.15" textLength="56.30" lengthAdjust="spacingAndGlyphs">Filtration index</text>
<path d="M40.90,433.70 L33.40,433.70 L40.00,431.15 L33.40,428.60 L40.90,428.60 M40.90,426.70 L33.40,426.70 M33.95,427.30 L33.95,424.10 M37.20,426.70 L37.20,424.50 M40.90,422.45 L33.40,422.45" stroke="#2a2a2a" stroke-width="1.0" fill="none" stroke-linejoin="round"/>
<path d="M40.90,542.90 L33.40,542.90 L40.00,540.35 L33.40,537.80 L40.90,537.80 M40.90,535.90 L33.40,535.90 M33.95,536.50 L33.95,533.30 M37.20,535.90 L37.20,533.70 M40.90,531.65 L33.40,531.65" stroke="#2a2a2a" stroke-width="1.0" fill="none" stroke-linejoin="round"/>
<path d="M206.90,433.70 L199.40,433.70 L206.00,431.15 L199.40,428.60 L206.90,428.60 M206.90,426.70 L199.40,426.70 M199.95,427.30 L199.95,424.10 M203.20,426.70 L203.20,424.50 M206.90,422.45 L199.40,422.45" stroke="#2a2a2a" stroke-width="1.0" fill="none" stroke-linejoin="round"/>
<path d="M206.90,542.90 L199.40,542.90 L206.00,540.35 L199.40,537.80 L206.90,537.80 M206.90,535.90 L199.40,535.90 M199.95,536.50 L199.95,533.30 M203.20,535.90 L203.20,533.70 M206.90,531.65 L199.40,531.65" stroke="#2a2a2a" stroke-width="1.0" fill="none" stroke-linejoin="round"/>
<path d="M373.40,433.70 L365.90,433.70 L372.50,431.15 L365.90,428.60 L373.40,428.60 M373.40,426.70 L365.90,426.70 M366.45,427.30 L366.45,424.10 M369.70,426.70 L369.70,424.50 M373.40,422.45 L365.90,422.45" stroke="#2a2a2a" stroke-width="1.0" fill="none" stroke-linejoin="round"/>
<path d="M373.40,542.90 L365.90,542.90 L372.50,540.35 L365.90,537.80 L373.40,537.80 M373.40,535.90 L365.90,535.90 M366.45,536.50 L366.45,533.30 M369.70,535.90 L369.70,533.70 M373.40,531.65 L365.90,531.65" stroke="#2a2a2a" stroke-width="1.0" fill="none" stroke-linejoin="round"/>
<path d="M40.90,655.90 L33.40,655.90 L40.00,653.35 L33.40,650.80 L40.90,650.80 M40.90,648.90 L33.40,648.90 M33.95,649.50 L33.95,646.30 M37.20,648.90 L37.20,646.70 M40.90,644.65 L33.40,644.65" stroke="#2a2a2a" stroke-width="1.0" fill="none" stroke-linejoin="round"/>
<path d="M206.90,654.80 L199.40,654.80 L206.00,652.25 L199.40,649.70 L206.90,649.70 M206.90,647.80 L199.40,647.80 M199.95,648.40 L199.95,645.20 M203.20,647.80 L203.20,645.60 M206.90,643.55 L199.40,643.55" stroke="#2a2a2a" stroke-width="1.0" fill="none" stroke-linejoin="round"/>
<path d="M373.40,654.80 L365.90,654.80 L372.50,652.25 L365.90,649.70 L373.40,649.70 M373.40,647.80 L365.90,647.80 M366.45,648.40 L366.45,645.20 M369.70,647.80 L369.70,645.60 M373.40,643.55 L365.90,643.55" stroke="#2a2a2a" stroke-width="1.0" fill="none" stroke-linejoin="round"/>
<path d="M66.90,98.20 L66.90,101.60 M65.43,99.05 L68.37,100.75 M68.37,99.05 L65.43,100.75 " stroke="#151515" stroke-width="1.0" fill="none"/>
<circle cx="66.90" cy="99.90" r="0.8" fill="#151515"/>
<path d="M71.00,98.20 L71.00,101.60 M69.53,99.05 L72.47,100.75 M72.47,99.05 L69.53,100.75 " stroke="#151515" stroke-width="1.0" fill="none"/>
<circle cx="71.00" cy="99.90" r="0.8" fill="#151515"/>
<path d="M100.30,341.60 L100.30,345.00 M98.83,342.45 L101.77,344.15 M101.77,342.45 L98.83,344.15 " stroke="#151515" stroke-width="1.0" fill="none"/>
<circle cx="100.30" cy="343.30" r="0.8" fill="#151515"/>
<path d="M98.30,520.50 L98.30,523.90 M96.83,521.35 L99.77,523.05 M99.77,521.35 L96.83,523.05 " stroke="#151515" stroke-width="1.0" fill="none"/>
<circle cx="98.30" cy="522.20" r="0.8" fill="#151515"/>
<path d="M102.50,520.50 L102.50,523.90 M101.03,521.35 L103.97,523.05 M103.97,521.35 L101.03,523.05 " stroke="#151515" stroke-width="1.0" fill="none"/>
<circle cx="102.50" cy="522.20" r="0.8" fill="#151515"/>
<path d="M120.80,410.80 L120.20,417.70 M122.80,410.80 L122.20,417.70 M119.30,413.28 H123.50 M119.30,415.35 H123.50" stroke="#1a1a1a" stroke-width="1.0" fill="none"/>
<path d="M120.90,615.00 L120.30,621.50 M122.90,615.00 L122.30,621.50 M119.40,617.34 H123.60 M119.40,619.29 H123.60" stroke="#1a1a1a" stroke-width="1.0" fill="none"/>
<text x="85.30" y="705.90" font-size="10.6" text-anchor="start" font-weight="normal" fill="#1e1e1e" textLength="45.70" lengthAdjust="spacingAndGlyphs" stroke="#1e1e1e" stroke-width="0.3">Time (hours)</text>
<text x="250.00" y="705.90" font-size="10.6" text-anchor="start" font-weight="normal" fill="#1e1e1e" textLength="46.20" lengthAdjust="spacingAndGlyphs" stroke="#1e1e1e" stroke-width="0.3">Time (hours)</text>
<text x="419.20" y="705.90" font-size="10.6" text-anchor="start" font-weight="normal" fill="#1e1e1e" textLength="46.20" lengthAdjust="spacingAndGlyphs" stroke="#1e1e1e" stroke-width="0.3">Time (hours)</text>
<rect x="0" y="0" width="1.3" height="716" fill="#000"/>
<rect x="0" y="0" width="520" height="1.2" fill="#000"/>
<rect x="518.85" y="0" width="1.15" height="716" fill="#000"/>
<rect x="0" y="714.5" width="520" height="1.5" fill="#000"/>
</svg>
</body></html>
